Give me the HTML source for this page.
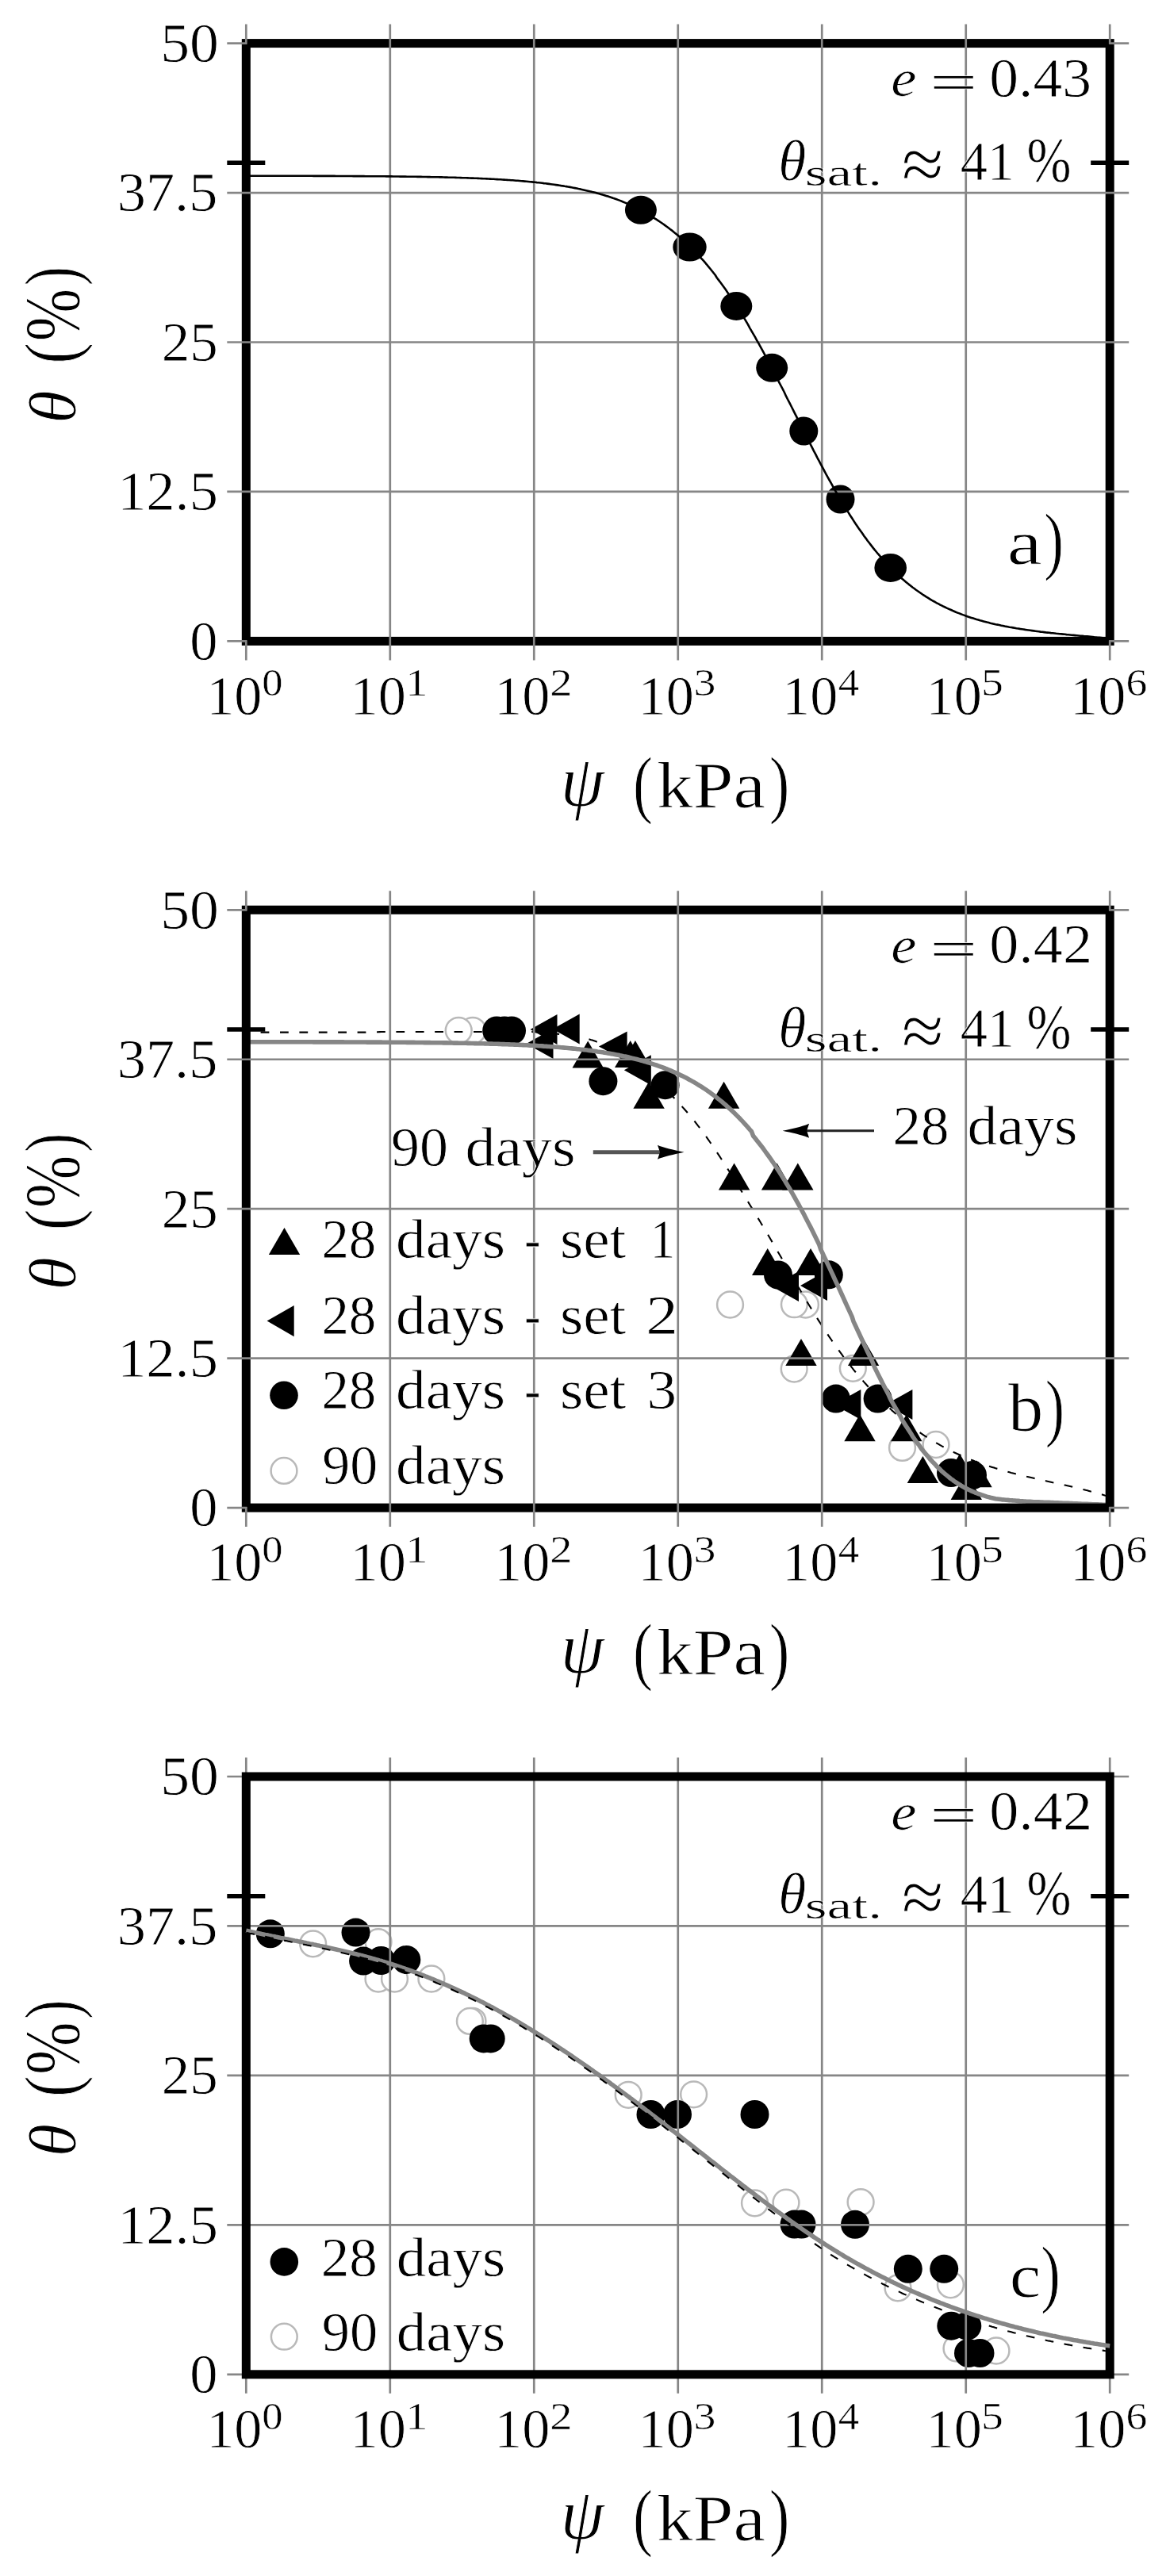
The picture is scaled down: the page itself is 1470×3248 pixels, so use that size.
<!DOCTYPE html>
<html lang="en"><head><meta charset="utf-8"><title>Soil water retention curves</title>
<style>html,body{margin:0;padding:0;background:#fff}svg{display:block}</style></head>
<body>
<svg width="1470" height="3248" viewBox="0 0 1470 3248" font-family='"Liberation Serif", "DejaVu Serif", serif'>
<rect width="1470" height="3248" fill="#fff"/>
<g fill="#000">
<ellipse cx="807.9" cy="264.8" rx="20" ry="18"/>
<ellipse cx="869.5" cy="311.5" rx="21.2" ry="18"/>
<ellipse cx="928.3" cy="385.9" rx="20" ry="18"/>
<ellipse cx="973.2" cy="463.8" rx="20" ry="18"/>
<circle cx="1013.3" cy="543.5" r="18"/>
<circle cx="1059.5" cy="629.5" r="18"/>
<ellipse cx="1122.7" cy="715.9" rx="20.3" ry="18"/>
</g>
<rect x="310.30" y="54.60" width="1088.90" height="753.80" fill="none" stroke="#000" stroke-width="11.0"/>
<path d="M286.30 205.36H334.30M1375.20 205.36H1423.20" stroke="#000" stroke-width="5.5"/>
<path d="M310.30 30.60V55.60M310.30 807.40V832.40M491.78 30.60V832.40M673.27 30.60V832.40M854.75 30.60V832.40M1036.23 30.60V832.40M1217.72 30.60V832.40M1399.20 30.60V55.60M1399.20 807.40V832.40M286.30 808.40H311.30M1398.20 808.40H1423.20M286.30 619.95H1423.20M286.30 431.50H1423.20M286.30 243.05H1423.20M286.30 54.60H311.30M1398.20 54.60H1423.20" stroke="#868686" stroke-width="2.7" fill="none"/>
<path d="M310.3 221.7L312.5 221.7L314.7 221.7L316.8 221.7L319.0 221.7L321.2 221.7L323.4 221.7L325.6 221.7L327.8 221.7L329.9 221.7L332.1 221.7L334.3 221.7L336.5 221.7L338.7 221.7L340.9 221.7L343.0 221.7L345.2 221.7L347.4 221.7L349.6 221.8L351.8 221.8L353.9 221.8L356.1 221.8L358.3 221.8L360.5 221.8L362.7 221.8L364.9 221.8L367.0 221.8L369.2 221.8L371.4 221.8L373.6 221.8L375.8 221.8L377.9 221.8L380.1 221.8L382.3 221.8L384.5 221.8L386.7 221.8L388.9 221.8L391.0 221.8L393.2 221.8L395.4 221.9L397.6 221.9L399.8 221.9L402.0 221.9L404.1 221.9L406.3 221.9L408.5 221.9L410.7 221.9L412.9 221.9L415.0 221.9L417.2 221.9L419.4 221.9L421.6 221.9L423.8 222.0L426.0 222.0L428.1 222.0L430.3 222.0L432.5 222.0L434.7 222.0L436.9 222.0L439.0 222.0L441.2 222.0L443.4 222.0L445.6 222.1L447.8 222.1L450.0 222.1L452.1 222.1L454.3 222.1L456.5 222.1L458.7 222.1L460.9 222.2L463.1 222.2L465.2 222.2L467.4 222.2L469.6 222.2L471.8 222.2L474.0 222.3L476.1 222.3L478.3 222.3L480.5 222.3L482.7 222.3L484.9 222.3L487.1 222.4L489.2 222.4L491.4 222.4L493.6 222.4L495.8 222.5L498.0 222.5L500.1 222.5L502.3 222.5L504.5 222.6L506.7 222.6L508.9 222.6L511.1 222.6L513.2 222.7L515.4 222.7L517.6 222.7L519.8 222.8L522.0 222.8L524.2 222.8L526.3 222.9L528.5 222.9L530.7 222.9L532.9 223.0L535.1 223.0L537.2 223.0L539.4 223.1L541.6 223.1L543.8 223.2L546.0 223.2L548.2 223.3L550.3 223.3L552.5 223.3L554.7 223.4L556.9 223.4L559.1 223.5L561.2 223.6L563.4 223.6L565.6 223.7L567.8 223.7L570.0 223.8L572.2 223.8L574.3 223.9L576.5 224.0L578.7 224.0L580.9 224.1L583.1 224.2L585.3 224.2L587.4 224.3L589.6 224.4L591.8 224.5L594.0 224.6L596.2 224.6L598.3 224.7L600.5 224.8L602.7 224.9L604.9 225.0L607.1 225.1L609.3 225.2L611.4 225.3L613.6 225.4L615.8 225.5L618.0 225.6L620.2 225.7L622.3 225.8L624.5 226.0L626.7 226.1L628.9 226.2L631.1 226.3L633.3 226.5L635.4 226.6L637.6 226.7L639.8 226.9L642.0 227.0L644.2 227.2L646.4 227.3L648.5 227.5L650.7 227.7L652.9 227.8L655.1 228.0L657.3 228.2L659.4 228.4L661.6 228.6L663.8 228.8L666.0 229.0L668.2 229.2L670.4 229.4L672.5 229.6L674.7 229.8L676.9 230.1L679.1 230.3L681.3 230.5L683.5 230.8L685.6 231.1L687.8 231.3L690.0 231.6L692.2 231.9L694.4 232.2L696.5 232.5L698.7 232.8L700.9 233.1L703.1 233.4L705.3 233.7L707.5 234.1L709.6 234.4L711.8 234.8L714.0 235.1L716.2 235.5L718.4 235.9L720.5 236.3L722.7 236.7L724.9 237.1L727.1 237.5L729.3 238.0L731.5 238.4L733.6 238.9L735.8 239.4L738.0 239.9L740.2 240.4L742.4 240.9L744.6 241.4L746.7 242.0L748.9 242.5L751.1 243.1L753.3 243.7L755.5 244.3L757.6 244.9L759.8 245.6L762.0 246.2L764.2 246.9L766.4 247.6L768.6 248.3L770.7 249.0L772.9 249.8L775.1 250.5L777.3 251.3L779.5 252.1L781.6 252.9L783.8 253.8L786.0 254.7L788.2 255.6L790.4 256.5L792.6 257.4L794.7 258.4L796.9 259.4L799.1 260.4L801.3 261.4L803.5 262.5L805.7 263.6L807.8 264.7L810.0 265.8L812.2 267.0L814.4 268.2L816.6 269.4L818.7 271.3L820.9 272.6L823.1 273.9L825.3 275.3L827.5 276.7L829.7 278.1L831.8 279.5L834.0 281.0L836.2 282.5L838.4 284.1L840.6 285.7L842.7 287.3L844.9 289.0L847.1 290.6L849.3 292.4L851.5 294.2L853.7 296.0L855.8 297.8L858.0 299.7L860.2 301.7L862.4 303.6L864.6 305.6L866.8 307.7L868.9 309.8L871.1 312.0L873.3 314.1L875.5 316.4L877.7 318.7L879.8 321.0L882.0 323.3L884.2 325.8L886.4 328.2L888.6 330.7L890.8 333.3L892.9 335.9L895.1 338.5L897.3 341.2L899.5 344.0L901.7 346.8L903.8 350.2L906.0 353.1L908.2 356.0L910.4 359.0L912.6 362.0L914.8 365.1L916.9 368.2L919.1 371.4L921.3 374.6L923.5 377.9L925.7 381.2L927.9 384.6L930.0 388.0L932.2 391.4L934.4 394.9L936.6 398.5L938.8 402.1L940.9 405.7L943.1 409.4L945.3 413.6L947.5 417.3L949.7 421.1L951.9 424.9L954.0 428.8L956.2 432.7L958.4 436.6L960.6 440.6L962.8 444.6L964.9 448.6L967.1 452.7L969.3 456.8L971.5 461.3L973.7 465.5L975.9 469.6L978.0 473.8L980.2 478.0L982.4 482.3L984.6 486.5L986.8 490.7L989.0 495.0L991.1 499.7L993.3 504.0L995.5 508.2L997.7 512.5L999.9 516.8L1002.0 521.1L1004.2 525.4L1006.4 530.1L1008.6 534.4L1010.8 538.6L1013.0 542.9L1015.1 547.2L1017.3 551.4L1019.5 556.0L1021.7 560.2L1023.9 564.4L1026.0 568.6L1028.2 572.7L1030.4 577.1L1032.6 581.2L1034.8 585.3L1037.0 589.4L1039.1 593.4L1041.3 597.6L1043.5 601.6L1045.7 605.5L1047.9 609.3L1050.1 613.4L1052.2 617.2L1054.4 621.0L1056.6 624.7L1058.8 628.6L1061.0 632.2L1063.1 635.8L1065.3 639.5L1067.5 643.0L1069.7 646.4L1071.9 650.0L1074.1 653.3L1076.2 656.6L1078.4 660.0L1080.6 663.2L1082.8 666.5L1085.0 669.6L1087.2 672.6L1089.3 675.7L1091.5 678.6L1093.7 681.7L1095.9 684.5L1098.1 687.4L1100.2 690.1L1102.4 692.9L1104.6 695.5L1106.8 698.2L1109.0 700.7L1111.2 703.3L1113.3 705.8L1115.5 708.1L1117.7 710.5L1119.9 712.8L1122.1 715.1L1124.2 717.4L1126.4 719.5L1128.6 721.6L1130.8 723.7L1133.0 725.8L1135.2 727.7L1137.3 729.7L1139.5 731.6L1141.7 733.4L1143.9 735.3L1146.1 737.1L1148.3 738.8L1150.4 740.5L1152.6 742.0L1154.8 743.7L1157.0 745.2L1159.2 746.8L1161.3 748.3L1163.5 749.8L1165.7 751.2L1167.9 752.6L1170.1 753.9L1172.3 755.3L1174.4 756.6L1176.6 757.8L1178.8 759.0L1181.0 760.3L1183.2 761.4L1185.3 762.6L1187.5 763.7L1189.7 764.8L1191.9 765.8L1194.1 766.9L1196.3 767.9L1198.4 768.8L1200.6 769.8L1202.8 770.7L1205.0 771.7L1207.2 772.6L1209.4 773.4L1211.5 774.3L1213.7 775.1L1215.9 775.9L1218.1 776.7L1220.3 777.5L1222.4 778.2L1224.6 778.9L1226.8 779.6L1229.0 780.3L1231.2 781.0L1233.4 781.6L1235.5 782.3L1237.7 782.8L1239.9 783.4L1242.1 784.0L1244.3 784.6L1246.4 785.1L1248.6 785.7L1250.8 786.2L1253.0 786.7L1255.2 787.2L1257.4 787.6L1259.5 788.1L1261.7 788.6L1263.9 789.0L1266.1 789.4L1268.3 789.9L1270.5 790.3L1272.6 790.7L1274.8 791.0L1277.0 791.4L1279.2 791.8L1281.4 792.2L1283.5 792.5L1285.7 792.9L1287.9 793.2L1290.1 793.5L1292.3 793.9L1294.5 794.2L1296.6 794.5L1298.8 794.8L1301.0 795.1L1303.2 795.4L1305.4 795.7L1307.5 796.0L1309.7 796.3L1311.9 796.6L1314.1 796.8L1316.3 797.1L1318.5 797.4L1320.6 797.6L1322.8 797.8L1325.0 798.1L1327.2 798.3L1329.4 798.5L1331.6 798.8L1333.7 799.0L1335.9 799.2L1338.1 799.4L1340.3 799.6L1342.5 799.8L1344.6 800.1L1346.8 800.3L1349.0 800.5L1351.2 800.7L1353.4 800.9L1355.6 801.1L1357.7 801.3L1359.9 801.5L1362.1 801.7L1364.3 801.8L1366.5 802.1L1368.6 802.2L1370.8 802.4L1373.0 802.6L1375.2 802.8L1377.4 803.0L1379.6 803.3L1381.7 803.5L1383.9 803.7L1386.1 803.9L1388.3 804.1L1390.5 804.3L1392.7 804.5L1394.8 804.8L1397.0 805.0L1399.2 805.2" fill="none" stroke="#000" stroke-width="2.6" stroke-linejoin="round"/>
<text fill="#000" stroke="#fff"><tspan x="202.26" y="77.90" font-size="69.00" textLength="73.70" lengthAdjust="spacingAndGlyphs" stroke-width="0.76">50</tspan></text>
<text fill="#000" stroke="#fff"><tspan x="147.77" y="266.35" font-size="69.00" textLength="126.53" lengthAdjust="spacingAndGlyphs" stroke-width="0.76">37.5</tspan></text>
<text fill="#000" stroke="#fff"><tspan x="203.80" y="454.80" font-size="69.00" textLength="71.04" lengthAdjust="spacingAndGlyphs" stroke-width="0.76">25</tspan></text>
<text fill="#000" stroke="#fff"><tspan x="148.16" y="643.25" font-size="69.00" textLength="126.73" lengthAdjust="spacingAndGlyphs" stroke-width="0.76">12.5</tspan></text>
<text fill="#000" stroke="#fff"><tspan x="239.35" y="831.70" font-size="69.00" textLength="35.29" lengthAdjust="spacingAndGlyphs" stroke-width="0.76">0</tspan></text>
<text fill="#000" stroke="#fff"><tspan x="260.15" y="900.60" font-size="69.00" textLength="70.29" lengthAdjust="spacingAndGlyphs" stroke-width="0.76">10</tspan><tspan x="330.33" y="877.20" font-size="49.00" textLength="26.24" lengthAdjust="spacingAndGlyphs" stroke-width="0.54">0</tspan></text>
<text fill="#000" stroke="#fff"><tspan x="441.63" y="900.60" font-size="69.00" textLength="70.29" lengthAdjust="spacingAndGlyphs" stroke-width="0.76">10</tspan><tspan x="511.37" y="877.20" font-size="49.00" textLength="28.09" lengthAdjust="spacingAndGlyphs" stroke-width="0.54">1</tspan></text>
<text fill="#000" stroke="#fff"><tspan x="623.12" y="900.60" font-size="69.00" textLength="70.29" lengthAdjust="spacingAndGlyphs" stroke-width="0.76">10</tspan><tspan x="693.24" y="877.20" font-size="49.00" textLength="28.12" lengthAdjust="spacingAndGlyphs" stroke-width="0.54">2</tspan></text>
<text fill="#000" stroke="#fff"><tspan x="804.60" y="900.60" font-size="69.00" textLength="70.29" lengthAdjust="spacingAndGlyphs" stroke-width="0.76">10</tspan><tspan x="874.60" y="877.20" font-size="49.00" textLength="27.88" lengthAdjust="spacingAndGlyphs" stroke-width="0.54">3</tspan></text>
<text fill="#000" stroke="#fff"><tspan x="986.08" y="900.60" font-size="69.00" textLength="70.29" lengthAdjust="spacingAndGlyphs" stroke-width="0.76">10</tspan><tspan x="1056.68" y="877.20" font-size="49.00" textLength="26.34" lengthAdjust="spacingAndGlyphs" stroke-width="0.54">4</tspan></text>
<text fill="#000" stroke="#fff"><tspan x="1167.57" y="900.60" font-size="69.00" textLength="70.29" lengthAdjust="spacingAndGlyphs" stroke-width="0.76">10</tspan><tspan x="1237.00" y="877.20" font-size="49.00" textLength="27.95" lengthAdjust="spacingAndGlyphs" stroke-width="0.54">5</tspan></text>
<text fill="#000" stroke="#fff"><tspan x="1349.05" y="900.60" font-size="69.00" textLength="70.29" lengthAdjust="spacingAndGlyphs" stroke-width="0.76">10</tspan><tspan x="1419.41" y="877.20" font-size="49.00" textLength="26.90" lengthAdjust="spacingAndGlyphs" stroke-width="0.54">6</tspan></text>
<text fill="#000" stroke="#fff"><tspan x="706.68" y="1015.80" font-size="91.00" font-style="italic" textLength="55.09" lengthAdjust="spacingAndGlyphs" stroke-width="1.00">ψ</tspan> <tspan x="797.91" y="1020.00" font-size="95.00" textLength="25.07" lengthAdjust="spacingAndGlyphs" stroke-width="1.04">(</tspan><tspan x="827.97" y="1017.80" font-size="83.00" textLength="137.00" lengthAdjust="spacingAndGlyphs" stroke-width="0.91">kPa</tspan><tspan x="969.70" y="1020.00" font-size="95.00" textLength="25.61" lengthAdjust="spacingAndGlyphs" stroke-width="1.04">)</tspan></text>
<text transform="translate(96,530.00) rotate(-90)" fill="#000" stroke="#fff"><tspan x="-3.82" y="-0.80" font-size="84.50" font-style="italic" textLength="41.41" lengthAdjust="spacingAndGlyphs" stroke-width="0.93">θ</tspan> <tspan x="71.36" y="1.40" font-size="94.50" textLength="26.90" lengthAdjust="spacingAndGlyphs" stroke-width="1.04">(</tspan><tspan x="99.71" y="3.00" font-size="99.76" textLength="66.31" lengthAdjust="spacingAndGlyphs" stroke-width="0.95">%</tspan><tspan x="169.63" y="1.40" font-size="94.50" textLength="24.31" lengthAdjust="spacingAndGlyphs" stroke-width="1.04">)</tspan></text>
<text fill="#000" stroke="#fff"><tspan x="1123.32" y="121.40" font-size="66.00" font-style="italic" textLength="32.23" lengthAdjust="spacingAndGlyphs" stroke-width="0.73">e</tspan> <tspan x="1171.80" y="126.00" font-size="66.00" textLength="60.89" lengthAdjust="spacingAndGlyphs" stroke-width="0.73">=</tspan> <tspan x="1247.24" y="121.60" font-size="69.00" textLength="128.70" lengthAdjust="spacingAndGlyphs" stroke-width="0.76">0.43</tspan></text>
<text fill="#000" stroke="#fff"><tspan x="981.13" y="227.00" font-size="72.00" font-style="italic" textLength="35.06" lengthAdjust="spacingAndGlyphs" stroke-width="0.79">θ</tspan><tspan x="1014.74" y="233.50" font-size="48.00" textLength="97.38" lengthAdjust="spacingAndGlyphs" stroke-width="0.53">sat.</tspan> <tspan x="1136.84" y="238.80" font-size="95.00" textLength="53.07" lengthAdjust="spacingAndGlyphs" stroke-width="1.04">≈</tspan> <tspan x="1210.63" y="227.00" font-size="69.00" textLength="68.48" lengthAdjust="spacingAndGlyphs" stroke-width="0.76">41</tspan> <tspan x="1294.45" y="228.80" font-size="81.42" textLength="55.97" lengthAdjust="spacingAndGlyphs" stroke-width="0.76">%</tspan></text>
<text fill="#000" stroke="#fff"><tspan x="1269.84" y="711.00" font-size="79.00" textLength="43.94" lengthAdjust="spacingAndGlyphs" stroke-width="0.87">a</tspan><tspan x="1315.95" y="713.00" font-size="94.50" textLength="25.09" lengthAdjust="spacingAndGlyphs" stroke-width="1.04">)</tspan></text>
<circle cx="596.0" cy="1299.3" r="16.4" fill="#fff" stroke="#b9b9b9" stroke-width="2.5"/>
<circle cx="578.2" cy="1299.3" r="16.4" fill="#fff" stroke="#b9b9b9" stroke-width="2.5"/>
<circle cx="920.5" cy="1645.0" r="16.4" fill="#fff" stroke="#b9b9b9" stroke-width="2.5"/>
<circle cx="1015.5" cy="1645.0" r="16.4" fill="#fff" stroke="#b9b9b9" stroke-width="2.5"/>
<circle cx="1001.4" cy="1644.7" r="16.4" fill="#fff" stroke="#b9b9b9" stroke-width="2.5"/>
<circle cx="1001.2" cy="1726.0" r="16.4" fill="#fff" stroke="#b9b9b9" stroke-width="2.5"/>
<circle cx="1075.3" cy="1725.3" r="16.4" fill="#fff" stroke="#b9b9b9" stroke-width="2.5"/>
<circle cx="1137.5" cy="1825.4" r="16.4" fill="#fff" stroke="#b9b9b9" stroke-width="2.5"/>
<circle cx="1180.0" cy="1821.5" r="16.4" fill="#fff" stroke="#b9b9b9" stroke-width="2.5"/>
<g fill="#000">
<circle cx="626.2" cy="1299.5" r="18"/>
<circle cx="636.0" cy="1299.5" r="18"/>
<circle cx="645.0" cy="1299.5" r="18"/>
<path d="M696.7 1297.5L730.7 1278.5V1316.5Z"/>
<path d="M668.5 1298.0L702.5 1279.0V1317.0Z"/>
<path d="M663.5 1316.0L697.5 1297.0V1335.0Z"/>
<path d="M741.2 1312.6L760.9 1346.6H721.5Z"/>
<path d="M754.9 1319.5L790.6 1300.5V1338.5Z"/>
<circle cx="760.4" cy="1363.2" r="18"/>
<path d="M794.7 1312.0L814.4 1346.0H775.0Z"/>
<path d="M800.9 1312.0L820.6 1346.0H781.2Z"/>
<path d="M786.8 1349.2L820.8 1330.2V1368.2Z"/>
<path d="M818.1 1363.7L837.8 1397.8H798.4Z"/>
<circle cx="838.6" cy="1368.2" r="18"/>
<path d="M912.6 1363.7L932.3 1397.8H892.9Z"/>
<path d="M925.6 1466.6L945.3 1500.6H905.9Z"/>
<path d="M979.6 1466.6L999.3 1500.6H959.9Z"/>
<path d="M1005.8 1466.6L1025.5 1500.6H986.1Z"/>
<path d="M967.7 1574.0L987.4 1608.0H948.0Z"/>
<circle cx="981.0" cy="1607.5" r="18"/>
<path d="M973.0 1622.0L1007.0 1603.0V1641.0Z"/>
<path d="M1022.0 1574.0L1041.7 1608.0H1002.3Z"/>
<path d="M1009.0 1621.0L1043.0 1602.0V1640.0Z"/>
<circle cx="1044.8" cy="1607.3" r="18"/>
<path d="M1010.0 1688.0L1029.7 1722.0H990.3Z"/>
<path d="M1088.6 1688.0L1108.3 1722.0H1068.9Z"/>
<circle cx="1053.9" cy="1763.6" r="18"/>
<path d="M1051.3 1771.0L1085.3 1752.0V1790.0Z"/>
<path d="M1084.0 1783.3L1103.7 1817.3H1064.3Z"/>
<circle cx="1106.6" cy="1763.6" r="18"/>
<path d="M1116.4 1771.0L1150.4 1752.0V1790.0Z"/>
<path d="M1142.8 1783.3L1162.5 1817.3H1123.1Z"/>
<path d="M1163.4 1835.9L1183.1 1869.9H1143.7Z"/>
<circle cx="1199.0" cy="1857.0" r="18"/>
<circle cx="1226.0" cy="1860.0" r="18"/>
<path d="M1210.0 1832.9L1229.7 1866.9H1190.3Z"/>
<path d="M1231.0 1841.3L1250.7 1875.3H1211.3Z"/>
<path d="M1218.3 1857.1L1238.0 1891.1H1198.6Z"/>
</g>
<path d="M310.3 1301.0L312.5 1301.0L314.7 1301.1L316.8 1301.2L319.0 1301.3L321.2 1301.4L323.4 1301.5L325.6 1301.6L327.8 1301.6L329.9 1301.6L332.1 1301.6L334.3 1301.6L336.5 1301.6L338.7 1301.6L340.9 1301.6L343.0 1301.6L345.2 1301.6L347.4 1301.6L349.6 1301.6L351.8 1301.6L353.9 1301.6L356.1 1301.6L358.3 1301.6L360.5 1301.6L362.7 1301.6L364.9 1301.6L367.0 1301.6L369.2 1301.6L371.4 1301.6L373.6 1301.6L375.8 1301.6L377.9 1301.6L380.1 1301.6L382.3 1301.6L384.5 1301.6L386.7 1301.6L388.9 1301.6L391.0 1301.6L393.2 1301.6L395.4 1301.6L397.6 1301.6L399.8 1301.6L402.0 1301.6L404.1 1301.6L406.3 1301.6L408.5 1301.6L410.7 1301.6L412.9 1301.6L415.0 1301.6L417.2 1301.6L419.4 1301.6L421.6 1301.6L423.8 1301.6L426.0 1301.6L428.1 1301.6L430.3 1301.6L432.5 1301.6L434.7 1301.6L436.9 1301.6L439.0 1301.6L441.2 1301.6L443.4 1301.6L445.6 1301.6L447.8 1301.6L450.0 1301.6L452.1 1301.6L454.3 1301.6L456.5 1301.6L458.7 1301.6L460.9 1301.6L463.1 1301.5L465.2 1301.5L467.4 1301.4L469.6 1301.3L471.8 1301.3L474.0 1301.2L476.1 1301.2L478.3 1301.1L480.5 1301.0L482.7 1301.0L484.9 1301.0L487.1 1301.0L489.2 1301.0L491.4 1301.0L493.6 1301.0L495.8 1301.0L498.0 1301.0L500.1 1301.0L502.3 1301.0L504.5 1301.0L506.7 1301.0L508.9 1301.0L511.1 1301.0L513.2 1301.0L515.4 1301.0L517.6 1301.0L519.8 1301.0L522.0 1301.0L524.2 1301.0L526.3 1301.0L528.5 1301.0L530.7 1301.0L532.9 1301.0L535.1 1301.0L537.2 1301.0L539.4 1301.0L541.6 1301.0L543.8 1301.0L546.0 1301.0L548.2 1301.0L550.3 1301.0L552.5 1301.0L554.7 1301.0L556.9 1301.0L559.1 1301.0L561.2 1301.0L563.4 1301.0L565.6 1301.0L567.8 1301.0L570.0 1301.0L572.2 1301.0L574.3 1301.0L576.5 1301.0L578.7 1301.0L580.9 1301.0L583.1 1301.0L585.3 1301.0L587.4 1301.0L589.6 1301.0L591.8 1301.0L594.0 1301.0L596.2 1301.0L598.3 1301.0L600.5 1301.0L602.7 1301.0L604.9 1301.0L607.1 1301.0L609.3 1301.0L611.4 1301.0L613.6 1301.0L615.8 1301.0L618.0 1301.0L620.2 1301.0L622.3 1301.0L624.5 1301.0L626.7 1301.0L628.9 1301.0L631.1 1301.0L633.3 1301.0L635.4 1301.0L637.6 1301.0L639.8 1301.0L642.0 1301.0L644.2 1301.0L646.4 1301.0L648.5 1301.0L650.7 1301.0L652.9 1301.0L655.1 1301.0L657.3 1301.0L659.4 1301.0L661.6 1301.0L663.8 1301.0L666.0 1301.0L668.2 1301.0L670.4 1301.0L672.5 1301.2L674.7 1301.3L676.9 1301.5L679.1 1301.6L681.3 1301.6L683.5 1301.6L685.6 1301.6L687.8 1301.6L690.0 1301.6L692.2 1302.6L694.4 1302.8L696.5 1303.0L698.7 1303.2L700.9 1303.4L703.1 1303.7L705.3 1303.9L707.5 1304.1L709.6 1304.3L711.8 1304.6L714.0 1304.9L716.2 1305.2L718.4 1305.5L720.5 1305.8L722.7 1306.1L724.9 1306.5L727.1 1306.9L729.3 1307.3L731.5 1307.7L733.6 1308.2L735.8 1308.7L738.0 1309.2L740.2 1309.7L742.4 1310.3L744.6 1311.0L746.7 1311.6L748.9 1312.3L751.1 1313.1L753.3 1313.9L755.5 1314.7L757.6 1315.5L759.8 1316.4L762.0 1317.4L764.2 1318.4L766.4 1319.4L768.6 1320.4L770.7 1321.5L772.9 1322.7L775.1 1323.8L777.3 1325.0L779.5 1326.3L781.6 1327.5L783.8 1328.8L786.0 1330.2L788.2 1331.6L790.4 1333.0L792.6 1334.4L794.7 1335.9L796.9 1337.5L799.1 1339.0L801.3 1340.6L803.5 1342.2L805.7 1343.9L807.8 1345.6L810.0 1347.3L812.2 1349.1L814.4 1350.9L816.6 1352.7L818.7 1354.5L820.9 1356.4L823.1 1358.3L825.3 1360.3L827.5 1362.3L829.7 1364.3L831.8 1366.3L834.0 1368.4L836.2 1370.5L838.4 1372.6L840.6 1374.8L842.7 1377.0L844.9 1379.2L847.1 1381.5L849.3 1383.7L851.5 1386.1L853.7 1388.4L855.8 1390.8L858.0 1393.1L860.2 1395.6L862.4 1398.0L864.6 1400.5L866.8 1403.0L868.9 1405.6L871.1 1408.2L873.3 1410.8L875.5 1413.5L877.7 1416.3L879.8 1419.1L882.0 1421.9L884.2 1424.8L886.4 1427.7L888.6 1430.7L890.8 1433.8L892.9 1436.8L895.1 1440.0L897.3 1443.1L899.5 1446.3L901.7 1449.6L903.8 1452.8L906.0 1456.1L908.2 1459.5L910.4 1462.8L912.6 1466.2L914.8 1469.6L916.9 1473.1L919.1 1476.5L921.3 1480.0L923.5 1483.5L925.7 1487.0L927.9 1490.5L930.0 1494.1L932.2 1497.6L934.4 1501.2L936.6 1504.7L938.8 1508.3L940.9 1511.9L943.1 1515.4L945.3 1519.0L947.5 1522.6L949.7 1526.2L951.9 1529.7L954.0 1533.3L956.2 1536.9L958.4 1540.5L960.6 1544.2L962.8 1547.8L964.9 1551.5L967.1 1555.1L969.3 1558.8L971.5 1562.5L973.7 1566.3L975.9 1570.0L978.0 1573.7L980.2 1577.5L982.4 1581.3L984.6 1585.0L986.8 1588.8L989.0 1592.6L991.1 1596.4L993.3 1600.1L995.5 1603.9L997.7 1607.7L999.9 1611.4L1002.0 1615.2L1004.2 1618.9L1006.4 1622.7L1008.6 1626.4L1010.8 1630.1L1013.0 1633.8L1015.1 1637.4L1017.3 1641.1L1019.5 1644.7L1021.7 1648.3L1023.9 1651.9L1026.0 1655.4L1028.2 1658.9L1030.4 1662.4L1032.6 1665.9L1034.8 1669.3L1037.0 1672.7L1039.1 1676.0L1041.3 1679.3L1043.5 1682.6L1045.7 1685.8L1047.9 1689.0L1050.1 1692.2L1052.2 1695.3L1054.4 1698.4L1056.6 1701.4L1058.8 1704.4L1061.0 1707.4L1063.1 1710.3L1065.3 1713.2L1067.5 1716.0L1069.7 1718.8L1071.9 1721.6L1074.1 1724.4L1076.2 1727.1L1078.4 1729.7L1080.6 1732.4L1082.8 1735.0L1085.0 1737.5L1087.2 1740.1L1089.3 1742.6L1091.5 1745.0L1093.7 1747.5L1095.9 1749.9L1098.1 1752.2L1100.2 1754.6L1102.4 1756.9L1104.6 1759.1L1106.8 1761.4L1109.0 1763.6L1111.2 1765.7L1113.3 1767.9L1115.5 1770.0L1117.7 1772.1L1119.9 1774.1L1122.1 1776.1L1124.2 1778.1L1126.4 1780.0L1128.6 1782.0L1130.8 1783.9L1133.0 1785.7L1135.2 1787.6L1137.3 1789.4L1139.5 1791.1L1141.7 1792.9L1143.9 1794.6L1146.1 1796.3L1148.3 1797.9L1150.4 1799.6L1152.6 1801.2L1154.8 1802.8L1157.0 1804.3L1159.2 1805.8L1161.3 1807.3L1163.5 1808.8L1165.7 1810.3L1167.9 1811.7L1170.1 1813.1L1172.3 1814.5L1174.4 1815.8L1176.6 1817.1L1178.8 1818.4L1181.0 1819.7L1183.2 1820.9L1185.3 1822.2L1187.5 1823.4L1189.7 1824.5L1191.9 1825.7L1194.1 1826.8L1196.3 1828.0L1198.4 1829.1L1200.6 1830.1L1202.8 1831.2L1205.0 1832.2L1207.2 1833.2L1209.4 1834.2L1211.5 1835.2L1213.7 1836.2L1215.9 1837.1L1218.1 1838.0L1220.3 1838.9L1222.4 1839.8L1224.6 1840.7L1226.8 1841.5L1229.0 1842.4L1231.2 1843.2L1233.4 1844.0L1235.5 1844.8L1237.7 1845.6L1239.9 1846.3L1242.1 1847.1L1244.3 1847.8L1246.4 1848.5L1248.6 1849.2L1250.8 1849.9L1253.0 1850.6L1255.2 1851.3L1257.4 1851.9L1259.5 1852.6L1261.7 1853.2L1263.9 1853.9L1266.1 1854.5L1268.3 1855.1L1270.5 1855.7L1272.6 1856.3L1274.8 1856.9L1277.0 1857.4L1279.2 1858.0L1281.4 1858.6L1283.5 1859.1L1285.7 1859.6L1287.9 1860.2L1290.1 1860.7L1292.3 1861.2L1294.5 1861.8L1296.6 1862.3L1298.8 1862.8L1301.0 1863.3L1303.2 1863.8L1305.4 1864.3L1307.5 1864.8L1309.7 1865.3L1311.9 1865.8L1314.1 1866.3L1316.3 1866.7L1318.5 1867.2L1320.6 1867.7L1322.8 1868.2L1325.0 1868.7L1327.2 1869.2L1329.4 1869.6L1331.6 1870.1L1333.7 1870.6L1335.9 1871.1L1338.1 1871.6L1340.3 1872.1L1342.5 1872.6L1344.6 1873.1L1346.8 1873.6L1349.0 1874.1L1351.2 1874.6L1353.4 1875.1L1355.6 1875.6L1357.7 1876.1L1359.9 1876.6L1362.1 1877.2L1364.3 1877.7L1366.5 1878.2L1368.6 1878.8L1370.8 1879.3L1373.0 1879.9L1375.2 1880.5L1377.4 1881.0L1379.6 1881.6L1381.7 1882.2L1383.9 1882.8L1386.1 1883.5L1388.3 1884.1L1390.5 1884.7L1392.7 1885.4L1394.8 1886.0L1397.0 1886.7L1399.2 1887.4" fill="none" stroke="#000" stroke-width="2.1" stroke-dasharray="10.8 13.6" stroke-linejoin="round" stroke-dashoffset="6.1"/>
<path d="M310.3 1313.8L312.5 1313.8L314.7 1313.8L316.8 1313.8L319.0 1313.8L321.2 1313.8L323.4 1313.8L325.6 1313.8L327.8 1313.8L329.9 1313.8L332.1 1313.8L334.3 1313.8L336.5 1313.8L338.7 1313.8L340.9 1313.8L343.0 1313.8L345.2 1313.8L347.4 1313.8L349.6 1313.8L351.8 1313.8L353.9 1313.8L356.1 1313.8L358.3 1313.8L360.5 1313.8L362.7 1313.8L364.9 1313.8L367.0 1313.8L369.2 1313.8L371.4 1313.8L373.6 1313.8L375.8 1313.8L377.9 1313.8L380.1 1313.8L382.3 1313.8L384.5 1313.8L386.7 1313.8L388.9 1313.8L391.0 1313.8L393.2 1313.8L395.4 1313.9L397.6 1313.9L399.8 1313.9L402.0 1313.9L404.1 1313.9L406.3 1313.9L408.5 1313.9L410.7 1313.9L412.9 1313.9L415.0 1313.9L417.2 1313.9L419.4 1313.9L421.6 1313.9L423.8 1313.9L426.0 1313.9L428.1 1313.9L430.3 1313.9L432.5 1313.9L434.7 1314.0L436.9 1314.0L439.0 1314.0L441.2 1314.0L443.4 1314.0L445.6 1314.0L447.8 1314.0L450.0 1314.0L452.1 1314.0L454.3 1314.0L456.5 1314.0L458.7 1314.0L460.9 1314.0L463.1 1314.1L465.2 1314.1L467.4 1314.1L469.6 1314.1L471.8 1314.1L474.0 1314.1L476.1 1314.1L478.3 1314.1L480.5 1314.1L482.7 1314.2L484.9 1314.2L487.1 1314.2L489.2 1314.2L491.4 1314.2L493.6 1314.2L495.8 1314.2L498.0 1314.2L500.1 1314.3L502.3 1314.3L504.5 1314.3L506.7 1314.3L508.9 1314.3L511.1 1314.3L513.2 1314.4L515.4 1314.4L517.6 1314.4L519.8 1314.4L522.0 1314.4L524.2 1314.5L526.3 1314.5L528.5 1314.5L530.7 1314.5L532.9 1314.5L535.1 1314.6L537.2 1314.6L539.4 1314.6L541.6 1314.6L543.8 1314.7L546.0 1314.7L548.2 1314.7L550.3 1314.7L552.5 1314.8L554.7 1314.8L556.9 1314.8L559.1 1314.9L561.2 1314.9L563.4 1314.9L565.6 1315.0L567.8 1315.0L570.0 1315.0L572.2 1315.1L574.3 1315.1L576.5 1315.1L578.7 1315.2L580.9 1315.2L583.1 1315.3L585.3 1315.3L587.4 1315.3L589.6 1315.4L591.8 1315.4L594.0 1315.5L596.2 1315.5L598.3 1315.6L600.5 1315.6L602.7 1315.7L604.9 1315.7L607.1 1315.8L609.3 1315.8L611.4 1315.9L613.6 1316.0L615.8 1316.0L618.0 1316.1L620.2 1316.1L622.3 1316.2L624.5 1316.3L626.7 1316.3L628.9 1316.4L631.1 1316.5L633.3 1316.6L635.4 1316.6L637.6 1316.7L639.8 1316.8L642.0 1316.9L644.2 1317.0L646.4 1317.0L648.5 1317.1L650.7 1317.2L652.9 1317.3L655.1 1317.4L657.3 1317.5L659.4 1317.6L661.6 1317.7L663.8 1317.8L666.0 1317.9L668.2 1318.1L670.4 1318.2L672.5 1318.3L674.7 1318.4L676.9 1318.5L679.1 1318.7L681.3 1318.8L683.5 1318.9L685.6 1319.1L687.8 1319.2L690.0 1319.4L692.2 1319.5L694.4 1319.7L696.5 1319.8L698.7 1320.0L700.9 1320.2L703.1 1320.3L705.3 1320.5L707.5 1320.7L709.6 1320.9L711.8 1321.1L714.0 1321.3L716.2 1321.5L718.4 1321.7L720.5 1321.9L722.7 1322.1L724.9 1322.3L727.1 1322.6L729.3 1322.8L731.5 1323.1L733.6 1323.3L735.8 1323.6L738.0 1323.8L740.2 1324.1L742.4 1324.4L744.6 1324.6L746.7 1324.9L748.9 1325.2L751.1 1325.5L753.3 1325.9L755.5 1326.2L757.6 1326.5L759.8 1326.8L762.0 1327.2L764.2 1327.6L766.4 1327.9L768.6 1328.3L770.7 1328.7L772.9 1329.1L775.1 1329.5L777.3 1329.9L779.5 1330.3L781.6 1330.8L783.8 1331.2L786.0 1331.7L788.2 1332.1L790.4 1332.6L792.6 1333.1L794.7 1333.6L796.9 1334.2L799.1 1334.7L801.3 1335.2L803.5 1335.8L805.7 1336.4L807.8 1337.0L810.0 1337.6L812.2 1338.2L814.4 1338.8L816.6 1339.5L818.7 1340.2L820.9 1340.9L823.1 1341.6L825.3 1342.3L827.5 1343.0L829.7 1343.8L831.8 1344.6L834.0 1345.4L836.2 1346.2L838.4 1347.0L840.6 1347.9L842.7 1348.8L844.9 1349.7L847.1 1350.6L849.3 1351.5L851.5 1352.5L853.7 1353.5L855.8 1354.5L858.0 1355.6L860.2 1356.6L862.4 1357.7L864.6 1358.8L866.8 1360.0L868.9 1361.2L871.1 1362.4L873.3 1363.6L875.5 1364.8L877.7 1366.1L879.8 1367.5L882.0 1368.8L884.2 1370.2L886.4 1371.6L888.6 1373.0L890.8 1374.5L892.9 1376.0L895.1 1377.6L897.3 1379.2L899.5 1380.8L901.7 1382.4L903.8 1384.1L906.0 1385.9L908.2 1387.6L910.4 1389.4L912.6 1391.3L914.8 1393.2L916.9 1395.1L919.1 1397.1L921.3 1399.1L923.5 1401.1L925.7 1403.2L927.9 1405.4L930.0 1407.6L932.2 1409.8L934.4 1412.1L936.6 1414.4L938.8 1416.8L940.9 1419.2L943.1 1421.6L945.3 1424.2L947.5 1426.7L949.7 1432.4L951.9 1435.0L954.0 1437.7L956.2 1440.5L958.4 1443.3L960.6 1446.1L962.8 1449.0L964.9 1452.0L967.1 1455.0L969.3 1458.0L971.5 1461.1L973.7 1464.3L975.9 1467.5L978.0 1470.8L980.2 1474.1L982.4 1477.5L984.6 1480.9L986.8 1484.4L989.0 1487.9L991.1 1491.5L993.3 1495.1L995.5 1498.8L997.7 1502.5L999.9 1506.3L1002.0 1510.2L1004.2 1514.1L1006.4 1518.0L1008.6 1522.0L1010.8 1526.0L1013.0 1530.1L1015.1 1534.3L1017.3 1538.5L1019.5 1542.7L1021.7 1546.9L1023.9 1551.3L1026.0 1555.6L1028.2 1560.0L1030.4 1564.4L1032.6 1568.9L1034.8 1575.6L1037.0 1580.1L1039.1 1584.6L1041.3 1589.2L1043.5 1593.8L1045.7 1598.4L1047.9 1603.1L1050.1 1607.8L1052.2 1612.5L1054.4 1617.2L1056.6 1621.9L1058.8 1626.7L1061.0 1631.5L1063.1 1636.2L1065.3 1641.0L1067.5 1645.8L1069.7 1650.6L1071.9 1655.4L1074.1 1660.2L1076.2 1666.6L1078.4 1671.3L1080.6 1676.1L1082.8 1680.8L1085.0 1685.5L1087.2 1690.2L1089.3 1694.9L1091.5 1699.5L1093.7 1704.2L1095.9 1708.8L1098.1 1713.4L1100.2 1717.9L1102.4 1723.6L1104.6 1728.0L1106.8 1732.4L1109.0 1736.8L1111.2 1741.1L1113.3 1745.4L1115.5 1749.6L1117.7 1753.8L1119.9 1757.9L1122.1 1762.9L1124.2 1766.9L1126.4 1770.8L1128.6 1774.6L1130.8 1778.4L1133.0 1782.2L1135.2 1785.9L1137.3 1790.2L1139.5 1793.7L1141.7 1797.2L1143.9 1800.6L1146.1 1803.9L1148.3 1807.2L1150.4 1810.9L1152.6 1814.0L1154.8 1817.1L1157.0 1820.0L1159.2 1822.9L1161.3 1826.2L1163.5 1828.9L1165.7 1831.6L1167.9 1834.1L1170.1 1836.6L1172.3 1839.5L1174.4 1841.8L1176.6 1844.1L1178.8 1846.3L1181.0 1848.9L1183.2 1850.9L1185.3 1852.9L1187.5 1855.2L1189.7 1857.0L1191.9 1858.9L1194.1 1860.6L1196.3 1862.5L1198.4 1864.2L1200.6 1865.7L1202.8 1867.5L1205.0 1868.9L1207.2 1870.3L1209.4 1871.8L1211.5 1873.0L1213.7 1874.4L1215.9 1875.6L1218.1 1876.6L1220.3 1877.9L1222.4 1878.8L1224.6 1879.9L1226.8 1880.8L1229.0 1881.8L1231.2 1882.6L1233.4 1883.5L1235.5 1884.2L1237.7 1885.0L1239.9 1885.7L1242.1 1886.4L1244.3 1887.1L1246.4 1887.6L1248.6 1888.2L1250.8 1888.7L1253.0 1889.2L1255.2 1889.7L1257.4 1890.0L1259.5 1890.3L1261.7 1890.6L1263.9 1890.9L1266.1 1891.0L1268.3 1891.2L1270.5 1891.4L1272.6 1891.6L1274.8 1891.7L1277.0 1891.9L1279.2 1892.0L1281.4 1892.2L1283.5 1892.4L1285.7 1892.6L1287.9 1892.7L1290.1 1892.9L1292.3 1893.0L1294.5 1893.2L1296.6 1893.3L1298.8 1893.4L1301.0 1893.5L1303.2 1893.7L1305.4 1893.7L1307.5 1893.8L1309.7 1893.9L1311.9 1894.0L1314.1 1894.1L1316.3 1894.2L1318.5 1894.3L1320.6 1894.4L1322.8 1894.4L1325.0 1894.5L1327.2 1894.6L1329.4 1894.7L1331.6 1894.8L1333.7 1894.9L1335.9 1895.0L1338.1 1895.1L1340.3 1895.2L1342.5 1895.3L1344.6 1895.4L1346.8 1895.4L1349.0 1895.5L1351.2 1895.6L1353.4 1895.7L1355.6 1895.8L1357.7 1895.9L1359.9 1896.0L1362.1 1896.1L1364.3 1896.2L1366.5 1896.3L1368.6 1896.4L1370.8 1896.4L1373.0 1896.5L1375.2 1896.6L1377.4 1896.7L1379.6 1896.8L1381.7 1896.9L1383.9 1896.9L1386.1 1897.0L1388.3 1897.1L1390.5 1897.2L1392.7 1897.3L1394.8 1897.4L1397.0 1897.5L1399.2 1897.6" fill="none" stroke="#868686" stroke-width="5.6" stroke-linejoin="round"/>
<rect x="310.30" y="1147.30" width="1088.90" height="753.80" fill="none" stroke="#000" stroke-width="11.0"/>
<path d="M286.30 1298.06H334.30M1375.20 1298.06H1423.20" stroke="#000" stroke-width="5.5"/>
<path d="M310.30 1123.30V1148.30M310.30 1900.10V1925.10M491.78 1123.30V1925.10M673.27 1123.30V1925.10M854.75 1123.30V1925.10M1036.23 1123.30V1925.10M1217.72 1123.30V1925.10M1399.20 1123.30V1148.30M1399.20 1900.10V1925.10M286.30 1901.10H311.30M1398.20 1901.10H1423.20M286.30 1712.65H1423.20M286.30 1524.20H1423.20M286.30 1335.75H1423.20M286.30 1147.30H311.30M1398.20 1147.30H1423.20" stroke="#868686" stroke-width="2.7" fill="none"/>
<path d="M747.8 1452.7H835.0" stroke="#555" stroke-width="5"/>
<path d="M862.5 1452.7C850.5 1450.2 835.0 1446.7 829.0 1443.7L832.0 1452.7L829.0 1461.7C835.0 1458.7 850.5 1455.2 862.5 1452.7Z" fill="#000"/>
<path d="M1102.0 1425.8H1014.1" stroke="#222" stroke-width="3"/>
<path d="M986.6 1425.8C998.6 1423.3 1014.1 1419.8 1020.1 1416.8L1017.1 1425.8L1020.1 1434.8C1014.1 1431.8 998.6 1428.3 986.6 1425.8Z" fill="#000"/>
<text fill="#000" stroke="#fff"><tspan x="493.06" y="1470.20" font-size="69.00" textLength="71.94" lengthAdjust="spacingAndGlyphs" stroke-width="0.76">90</tspan> <tspan x="586.44" y="1470.20" font-size="69.00" textLength="139.16" lengthAdjust="spacingAndGlyphs" stroke-width="0.76">days</tspan></text>
<text fill="#000" stroke="#fff"><tspan x="1125.61" y="1442.70" font-size="69.00" textLength="70.95" lengthAdjust="spacingAndGlyphs" stroke-width="0.76">28</tspan> <tspan x="1219.55" y="1442.70" font-size="69.00" textLength="138.95" lengthAdjust="spacingAndGlyphs" stroke-width="0.76">days</tspan></text>
<g fill="#000">
<path d="M358.5 1548.0L378.2 1582.0H338.8Z"/>
<path d="M336.6 1665.6L370.7 1645.9V1685.3Z"/>
<circle cx="358.0" cy="1759.3" r="17.8"/>
</g>
<circle cx="358.0" cy="1854.4" r="16.4" fill="#fff" stroke="#b9b9b9" stroke-width="2.5"/>
<text fill="#000" stroke="#fff"><tspan x="405.40" y="1585.60" font-size="69.00" textLength="68.88" lengthAdjust="spacingAndGlyphs" stroke-width="0.76">28</tspan> <tspan x="498.96" y="1585.60" font-size="69.00" textLength="138.12" lengthAdjust="spacingAndGlyphs" stroke-width="0.76">days</tspan> <tspan x="660.89" y="1585.60" font-size="69.00" textLength="20.49" lengthAdjust="spacingAndGlyphs" stroke-width="0.76">-</tspan> <tspan x="706.00" y="1585.60" font-size="69.00" textLength="83.45" lengthAdjust="spacingAndGlyphs" stroke-width="0.76">set</tspan> <tspan x="819.46" y="1585.60" font-size="69.00" textLength="31.63" lengthAdjust="spacingAndGlyphs" stroke-width="0.76">1</tspan></text>
<text fill="#000" stroke="#fff"><tspan x="405.40" y="1681.50" font-size="69.00" textLength="68.88" lengthAdjust="spacingAndGlyphs" stroke-width="0.76">28</tspan> <tspan x="498.96" y="1681.50" font-size="69.00" textLength="138.12" lengthAdjust="spacingAndGlyphs" stroke-width="0.76">days</tspan> <tspan x="660.89" y="1681.50" font-size="69.00" textLength="20.49" lengthAdjust="spacingAndGlyphs" stroke-width="0.76">-</tspan> <tspan x="706.00" y="1681.50" font-size="69.00" textLength="83.45" lengthAdjust="spacingAndGlyphs" stroke-width="0.76">set</tspan> <tspan x="814.34" y="1681.50" font-size="69.00" textLength="40.62" lengthAdjust="spacingAndGlyphs" stroke-width="0.76">2</tspan></text>
<text fill="#000" stroke="#fff"><tspan x="405.40" y="1776.00" font-size="69.00" textLength="68.88" lengthAdjust="spacingAndGlyphs" stroke-width="0.76">28</tspan> <tspan x="498.96" y="1776.00" font-size="69.00" textLength="138.12" lengthAdjust="spacingAndGlyphs" stroke-width="0.76">days</tspan> <tspan x="660.89" y="1776.00" font-size="69.00" textLength="20.49" lengthAdjust="spacingAndGlyphs" stroke-width="0.76">-</tspan> <tspan x="706.00" y="1776.00" font-size="69.00" textLength="83.45" lengthAdjust="spacingAndGlyphs" stroke-width="0.76">set</tspan> <tspan x="815.43" y="1776.00" font-size="69.00" textLength="37.58" lengthAdjust="spacingAndGlyphs" stroke-width="0.76">3</tspan></text>
<text fill="#000" stroke="#fff"><tspan x="406.23" y="1871.20" font-size="69.00" textLength="69.89" lengthAdjust="spacingAndGlyphs" stroke-width="0.76">90</tspan> <tspan x="498.96" y="1871.20" font-size="69.00" textLength="138.12" lengthAdjust="spacingAndGlyphs" stroke-width="0.76">days</tspan></text>
<text fill="#000" stroke="#fff"><tspan x="202.26" y="1170.60" font-size="69.00" textLength="73.70" lengthAdjust="spacingAndGlyphs" stroke-width="0.76">50</tspan></text>
<text fill="#000" stroke="#fff"><tspan x="147.77" y="1359.05" font-size="69.00" textLength="126.53" lengthAdjust="spacingAndGlyphs" stroke-width="0.76">37.5</tspan></text>
<text fill="#000" stroke="#fff"><tspan x="203.80" y="1547.50" font-size="69.00" textLength="71.04" lengthAdjust="spacingAndGlyphs" stroke-width="0.76">25</tspan></text>
<text fill="#000" stroke="#fff"><tspan x="148.16" y="1735.95" font-size="69.00" textLength="126.73" lengthAdjust="spacingAndGlyphs" stroke-width="0.76">12.5</tspan></text>
<text fill="#000" stroke="#fff"><tspan x="239.35" y="1924.40" font-size="69.00" textLength="35.29" lengthAdjust="spacingAndGlyphs" stroke-width="0.76">0</tspan></text>
<text fill="#000" stroke="#fff"><tspan x="260.15" y="1993.30" font-size="69.00" textLength="70.29" lengthAdjust="spacingAndGlyphs" stroke-width="0.76">10</tspan><tspan x="330.33" y="1969.90" font-size="49.00" textLength="26.24" lengthAdjust="spacingAndGlyphs" stroke-width="0.54">0</tspan></text>
<text fill="#000" stroke="#fff"><tspan x="441.63" y="1993.30" font-size="69.00" textLength="70.29" lengthAdjust="spacingAndGlyphs" stroke-width="0.76">10</tspan><tspan x="511.37" y="1969.90" font-size="49.00" textLength="28.09" lengthAdjust="spacingAndGlyphs" stroke-width="0.54">1</tspan></text>
<text fill="#000" stroke="#fff"><tspan x="623.12" y="1993.30" font-size="69.00" textLength="70.29" lengthAdjust="spacingAndGlyphs" stroke-width="0.76">10</tspan><tspan x="693.24" y="1969.90" font-size="49.00" textLength="28.12" lengthAdjust="spacingAndGlyphs" stroke-width="0.54">2</tspan></text>
<text fill="#000" stroke="#fff"><tspan x="804.60" y="1993.30" font-size="69.00" textLength="70.29" lengthAdjust="spacingAndGlyphs" stroke-width="0.76">10</tspan><tspan x="874.60" y="1969.90" font-size="49.00" textLength="27.88" lengthAdjust="spacingAndGlyphs" stroke-width="0.54">3</tspan></text>
<text fill="#000" stroke="#fff"><tspan x="986.08" y="1993.30" font-size="69.00" textLength="70.29" lengthAdjust="spacingAndGlyphs" stroke-width="0.76">10</tspan><tspan x="1056.68" y="1969.90" font-size="49.00" textLength="26.34" lengthAdjust="spacingAndGlyphs" stroke-width="0.54">4</tspan></text>
<text fill="#000" stroke="#fff"><tspan x="1167.57" y="1993.30" font-size="69.00" textLength="70.29" lengthAdjust="spacingAndGlyphs" stroke-width="0.76">10</tspan><tspan x="1237.00" y="1969.90" font-size="49.00" textLength="27.95" lengthAdjust="spacingAndGlyphs" stroke-width="0.54">5</tspan></text>
<text fill="#000" stroke="#fff"><tspan x="1349.05" y="1993.30" font-size="69.00" textLength="70.29" lengthAdjust="spacingAndGlyphs" stroke-width="0.76">10</tspan><tspan x="1419.41" y="1969.90" font-size="49.00" textLength="26.90" lengthAdjust="spacingAndGlyphs" stroke-width="0.54">6</tspan></text>
<text fill="#000" stroke="#fff"><tspan x="706.68" y="2108.50" font-size="91.00" font-style="italic" textLength="55.09" lengthAdjust="spacingAndGlyphs" stroke-width="1.00">ψ</tspan> <tspan x="797.91" y="2112.70" font-size="95.00" textLength="25.07" lengthAdjust="spacingAndGlyphs" stroke-width="1.04">(</tspan><tspan x="827.97" y="2110.50" font-size="83.00" textLength="137.00" lengthAdjust="spacingAndGlyphs" stroke-width="0.91">kPa</tspan><tspan x="969.70" y="2112.70" font-size="95.00" textLength="25.61" lengthAdjust="spacingAndGlyphs" stroke-width="1.04">)</tspan></text>
<text transform="translate(96,1622.70) rotate(-90)" fill="#000" stroke="#fff"><tspan x="-3.82" y="-0.80" font-size="84.50" font-style="italic" textLength="41.41" lengthAdjust="spacingAndGlyphs" stroke-width="0.93">θ</tspan> <tspan x="71.36" y="1.40" font-size="94.50" textLength="26.90" lengthAdjust="spacingAndGlyphs" stroke-width="1.04">(</tspan><tspan x="99.71" y="3.00" font-size="99.76" textLength="66.31" lengthAdjust="spacingAndGlyphs" stroke-width="0.95">%</tspan><tspan x="169.63" y="1.40" font-size="94.50" textLength="24.31" lengthAdjust="spacingAndGlyphs" stroke-width="1.04">)</tspan></text>
<text fill="#000" stroke="#fff"><tspan x="1123.32" y="1214.10" font-size="66.00" font-style="italic" textLength="32.23" lengthAdjust="spacingAndGlyphs" stroke-width="0.73">e</tspan> <tspan x="1171.80" y="1218.70" font-size="66.00" textLength="60.89" lengthAdjust="spacingAndGlyphs" stroke-width="0.73">=</tspan> <tspan x="1247.22" y="1214.30" font-size="69.00" textLength="129.86" lengthAdjust="spacingAndGlyphs" stroke-width="0.76">0.42</tspan></text>
<text fill="#000" stroke="#fff"><tspan x="981.13" y="1319.70" font-size="72.00" font-style="italic" textLength="35.06" lengthAdjust="spacingAndGlyphs" stroke-width="0.79">θ</tspan><tspan x="1014.74" y="1326.20" font-size="48.00" textLength="97.38" lengthAdjust="spacingAndGlyphs" stroke-width="0.53">sat.</tspan> <tspan x="1136.84" y="1331.50" font-size="95.00" textLength="53.07" lengthAdjust="spacingAndGlyphs" stroke-width="1.04">≈</tspan> <tspan x="1210.63" y="1319.70" font-size="69.00" textLength="68.48" lengthAdjust="spacingAndGlyphs" stroke-width="0.76">41</tspan> <tspan x="1294.45" y="1321.50" font-size="81.42" textLength="55.97" lengthAdjust="spacingAndGlyphs" stroke-width="0.76">%</tspan></text>
<text fill="#000" stroke="#fff"><tspan x="1271.00" y="1803.70" font-size="86.00" textLength="44.32" lengthAdjust="spacingAndGlyphs" stroke-width="0.95">b</tspan><tspan x="1317.83" y="1805.70" font-size="94.50" textLength="24.31" lengthAdjust="spacingAndGlyphs" stroke-width="1.04">)</tspan></text>
<circle cx="394.6" cy="2450.8" r="16.4" fill="#fff" stroke="#b9b9b9" stroke-width="2.5"/>
<circle cx="477.0" cy="2448.6" r="16.4" fill="#fff" stroke="#b9b9b9" stroke-width="2.5"/>
<circle cx="477.0" cy="2495.0" r="16.4" fill="#fff" stroke="#b9b9b9" stroke-width="2.5"/>
<circle cx="497.5" cy="2495.0" r="16.4" fill="#fff" stroke="#b9b9b9" stroke-width="2.5"/>
<circle cx="543.9" cy="2495.0" r="16.4" fill="#fff" stroke="#b9b9b9" stroke-width="2.5"/>
<circle cx="596.0" cy="2548.3" r="16.4" fill="#fff" stroke="#b9b9b9" stroke-width="2.5"/>
<circle cx="592.4" cy="2548.4" r="16.4" fill="#fff" stroke="#b9b9b9" stroke-width="2.5"/>
<circle cx="792.2" cy="2641.3" r="16.4" fill="#fff" stroke="#b9b9b9" stroke-width="2.5"/>
<circle cx="874.6" cy="2640.8" r="16.4" fill="#fff" stroke="#b9b9b9" stroke-width="2.5"/>
<circle cx="951.5" cy="2777.8" r="16.4" fill="#fff" stroke="#b9b9b9" stroke-width="2.5"/>
<circle cx="991.0" cy="2777.2" r="16.4" fill="#fff" stroke="#b9b9b9" stroke-width="2.5"/>
<circle cx="1085.1" cy="2776.6" r="16.4" fill="#fff" stroke="#b9b9b9" stroke-width="2.5"/>
<circle cx="1132.0" cy="2884.8" r="16.4" fill="#fff" stroke="#b9b9b9" stroke-width="2.5"/>
<circle cx="1198.4" cy="2880.8" r="16.4" fill="#fff" stroke="#b9b9b9" stroke-width="2.5"/>
<circle cx="1206.0" cy="2961.0" r="16.4" fill="#fff" stroke="#b9b9b9" stroke-width="2.5"/>
<circle cx="1256.0" cy="2964.0" r="16.4" fill="#fff" stroke="#b9b9b9" stroke-width="2.5"/>
<g fill="#000">
<circle cx="340.8" cy="2438.3" r="18"/>
<circle cx="448.5" cy="2436.6" r="18"/>
<circle cx="458.1" cy="2472.6" r="18"/>
<circle cx="480.4" cy="2472.0" r="18"/>
<circle cx="512.3" cy="2470.9" r="18"/>
<circle cx="609.7" cy="2570.4" r="18"/>
<circle cx="618.7" cy="2570.4" r="18"/>
<circle cx="820.5" cy="2666.0" r="18"/>
<circle cx="854.0" cy="2666.0" r="18"/>
<circle cx="951.5" cy="2666.0" r="18"/>
<circle cx="1001.5" cy="2804.6" r="18"/>
<circle cx="1010.5" cy="2804.6" r="18"/>
<circle cx="1078.0" cy="2804.8" r="18"/>
<circle cx="1144.8" cy="2860.8" r="18"/>
<circle cx="1190.2" cy="2860.8" r="18"/>
<circle cx="1199.3" cy="2932.7" r="18"/>
<circle cx="1219.3" cy="2932.7" r="18"/>
<circle cx="1221.0" cy="2967.0" r="18"/>
<circle cx="1235.5" cy="2967.0" r="18"/>
</g>
<path d="M310.30 2216.00V2241.00M310.30 2992.80V3017.80M491.78 2216.00V3017.80M673.27 2216.00V3017.80M854.75 2216.00V3017.80M1036.23 2216.00V3017.80M1217.72 2216.00V3017.80M1399.20 2216.00V2241.00M1399.20 2992.80V3017.80M286.30 2993.80H311.30M1398.20 2993.80H1423.20M286.30 2805.35H1423.20M286.30 2616.90H1423.20M286.30 2428.45H1423.20M286.30 2240.00H311.30M1398.20 2240.00H1423.20" stroke="#868686" stroke-width="2.7" fill="none"/>
<rect x="310.30" y="2240.00" width="1088.90" height="753.80" fill="none" stroke="#000" stroke-width="11.0"/>
<path d="M286.30 2390.76H334.30M1375.20 2390.76H1423.20" stroke="#000" stroke-width="5.5"/>
<path d="M310.3 2434.3L312.5 2434.8L314.7 2435.3L316.8 2435.7L319.0 2436.2L321.2 2436.7L323.4 2437.1L325.6 2437.6L327.8 2438.0L329.9 2438.5L332.1 2438.9L334.3 2439.4L336.5 2439.8L338.7 2440.3L340.9 2440.7L343.0 2441.2L345.2 2441.6L347.4 2442.1L349.6 2442.5L351.8 2442.9L353.9 2443.4L356.1 2443.8L358.3 2444.3L360.5 2444.7L362.7 2445.1L364.9 2445.6L367.0 2446.0L369.2 2446.4L371.4 2446.9L373.6 2447.3L375.8 2447.8L377.9 2448.2L380.1 2448.6L382.3 2449.1L384.5 2449.5L386.7 2450.0L388.9 2450.4L391.0 2450.9L393.2 2451.3L395.4 2451.8L397.6 2452.2L399.8 2452.7L402.0 2453.1L404.1 2453.6L406.3 2454.1L408.5 2454.5L410.7 2455.0L412.9 2455.5L415.0 2455.9L417.2 2456.4L419.4 2456.9L421.6 2457.4L423.8 2457.9L426.0 2458.4L428.1 2458.9L430.3 2459.4L432.5 2459.9L434.7 2460.4L436.9 2460.9L439.0 2461.4L441.2 2462.0L443.4 2462.5L445.6 2463.0L447.8 2463.6L450.0 2464.1L452.1 2464.7L454.3 2465.3L456.5 2465.8L458.7 2466.4L460.9 2467.0L463.1 2467.6L465.2 2468.2L467.4 2468.8L469.6 2469.4L471.8 2470.0L474.0 2470.6L476.1 2471.2L478.3 2471.9L480.5 2472.5L482.7 2473.2L484.9 2473.8L487.1 2474.5L489.2 2475.2L491.4 2475.8L493.6 2476.5L495.8 2477.2L498.0 2477.9L500.1 2478.7L502.3 2479.4L504.5 2480.1L506.7 2480.9L508.9 2481.6L511.1 2482.4L513.2 2483.1L515.4 2483.9L517.6 2484.7L519.8 2485.5L522.0 2486.3L524.2 2487.1L526.3 2487.9L528.5 2488.8L530.7 2489.6L532.9 2490.4L535.1 2491.3L537.2 2492.2L539.4 2493.0L541.6 2493.9L543.8 2494.8L546.0 2495.7L548.2 2496.6L550.3 2497.5L552.5 2498.4L554.7 2499.3L556.9 2500.3L559.1 2501.2L561.2 2502.2L563.4 2503.1L565.6 2504.1L567.8 2505.1L570.0 2506.0L572.2 2507.0L574.3 2508.0L576.5 2509.0L578.7 2510.1L580.9 2511.1L583.1 2512.1L585.3 2513.1L587.4 2514.2L589.6 2515.2L591.8 2516.3L594.0 2517.4L596.2 2518.5L598.3 2519.5L600.5 2520.6L602.7 2521.7L604.9 2522.9L607.1 2524.0L609.3 2525.1L611.4 2526.2L613.6 2527.4L615.8 2528.5L618.0 2529.7L620.2 2530.8L622.3 2532.0L624.5 2533.2L626.7 2534.4L628.9 2535.6L631.1 2536.8L633.3 2538.0L635.4 2539.2L637.6 2540.5L639.8 2541.7L642.0 2542.9L644.2 2544.2L646.4 2545.4L648.5 2546.7L650.7 2548.0L652.9 2549.3L655.1 2550.5L657.3 2551.8L659.4 2553.1L661.6 2554.4L663.8 2555.8L666.0 2557.1L668.2 2558.4L670.4 2559.8L672.5 2561.1L674.7 2562.4L676.9 2563.8L679.1 2565.2L681.3 2566.5L683.5 2567.9L685.6 2569.3L687.8 2570.7L690.0 2572.1L692.2 2573.5L694.4 2574.9L696.5 2576.3L698.7 2577.7L700.9 2579.1L703.1 2580.6L705.3 2582.0L707.5 2583.5L709.6 2584.9L711.8 2586.4L714.0 2587.8L716.2 2589.3L718.4 2590.8L720.5 2592.2L722.7 2593.7L724.9 2595.2L727.1 2596.7L729.3 2598.2L731.5 2599.7L733.6 2601.2L735.8 2602.7L738.0 2604.3L740.2 2605.8L742.4 2607.3L744.6 2608.9L746.7 2610.4L748.9 2612.0L751.1 2613.5L753.3 2615.1L755.5 2616.6L757.6 2618.2L759.8 2619.8L762.0 2621.3L764.2 2622.9L766.4 2624.5L768.6 2626.1L770.7 2627.7L772.9 2629.3L775.1 2630.9L777.3 2632.5L779.5 2634.1L781.6 2635.7L783.8 2637.3L786.0 2638.9L788.2 2640.6L790.4 2642.2L792.6 2643.8L794.7 2645.5L796.9 2647.1L799.1 2648.7L801.3 2650.4L803.5 2652.0L805.7 2653.7L807.8 2655.4L810.0 2657.0L812.2 2658.7L814.4 2660.4L816.6 2662.0L818.7 2663.7L820.9 2665.4L823.1 2667.1L825.3 2668.7L827.5 2670.4L829.7 2672.1L831.8 2673.8L834.0 2675.5L836.2 2677.2L838.4 2678.9L840.6 2680.6L842.7 2682.3L844.9 2684.0L847.1 2685.7L849.3 2687.4L851.5 2689.1L853.7 2690.8L855.8 2692.5L858.0 2694.2L860.2 2696.0L862.4 2697.7L864.6 2699.4L866.8 2701.1L868.9 2702.8L871.1 2704.5L873.3 2706.2L875.5 2708.0L877.7 2709.7L879.8 2711.4L882.0 2713.1L884.2 2714.8L886.4 2716.5L888.6 2718.3L890.8 2720.0L892.9 2721.7L895.1 2723.4L897.3 2725.1L899.5 2726.8L901.7 2728.5L903.8 2730.2L906.0 2731.9L908.2 2733.7L910.4 2735.4L912.6 2737.1L914.8 2738.8L916.9 2740.5L919.1 2742.2L921.3 2743.9L923.5 2745.5L925.7 2747.2L927.9 2748.9L930.0 2750.6L932.2 2752.3L934.4 2754.0L936.6 2755.7L938.8 2757.3L940.9 2759.0L943.1 2760.7L945.3 2762.3L947.5 2764.0L949.7 2765.6L951.9 2767.3L954.0 2769.0L956.2 2770.6L958.4 2772.2L960.6 2773.9L962.8 2775.5L964.9 2777.1L967.1 2778.8L969.3 2780.4L971.5 2782.0L973.7 2783.6L975.9 2785.2L978.0 2786.8L980.2 2788.4L982.4 2790.0L984.6 2791.6L986.8 2793.2L989.0 2794.8L991.1 2796.3L993.3 2797.9L995.5 2799.4L997.7 2801.0L999.9 2802.5L1002.0 2804.1L1004.2 2805.6L1006.4 2807.1L1008.6 2808.7L1010.8 2810.2L1013.0 2811.7L1015.1 2813.2L1017.3 2814.7L1019.5 2816.2L1021.7 2817.6L1023.9 2819.1L1026.0 2820.6L1028.2 2822.0L1030.4 2823.5L1032.6 2824.9L1034.8 2826.3L1037.0 2827.7L1039.1 2829.1L1041.3 2830.5L1043.5 2831.9L1045.7 2833.3L1047.9 2834.7L1050.1 2836.0L1052.2 2837.4L1054.4 2838.7L1056.6 2840.0L1058.8 2841.4L1061.0 2842.7L1063.1 2844.0L1065.3 2845.3L1067.5 2846.6L1069.7 2847.8L1071.9 2849.1L1074.1 2850.4L1076.2 2851.6L1078.4 2852.9L1080.6 2854.1L1082.8 2855.3L1085.0 2856.5L1087.2 2857.7L1089.3 2858.9L1091.5 2860.1L1093.7 2861.3L1095.9 2862.5L1098.1 2863.6L1100.2 2864.8L1102.4 2865.9L1104.6 2867.1L1106.8 2868.2L1109.0 2869.3L1111.2 2870.4L1113.3 2871.5L1115.5 2872.6L1117.7 2873.7L1119.9 2874.8L1122.1 2875.9L1124.2 2876.9L1126.4 2878.0L1128.6 2879.0L1130.8 2880.1L1133.0 2881.1L1135.2 2882.1L1137.3 2883.1L1139.5 2884.1L1141.7 2885.1L1143.9 2886.1L1146.1 2887.1L1148.3 2888.1L1150.4 2889.1L1152.6 2890.0L1154.8 2891.0L1157.0 2891.9L1159.2 2892.9L1161.3 2893.8L1163.5 2894.7L1165.7 2895.6L1167.9 2896.5L1170.1 2897.4L1172.3 2898.3L1174.4 2899.2L1176.6 2900.1L1178.8 2901.0L1181.0 2901.8L1183.2 2902.7L1185.3 2903.6L1187.5 2904.4L1189.7 2905.2L1191.9 2906.1L1194.1 2906.9L1196.3 2907.7L1198.4 2908.5L1200.6 2909.3L1202.8 2910.1L1205.0 2910.9L1207.2 2911.7L1209.4 2912.4L1211.5 2913.2L1213.7 2914.0L1215.9 2914.7L1218.1 2915.5L1220.3 2916.2L1222.4 2917.0L1224.6 2917.7L1226.8 2918.4L1229.0 2919.1L1231.2 2919.8L1233.4 2920.5L1235.5 2921.2L1237.7 2921.9L1239.9 2922.6L1242.1 2923.3L1244.3 2923.9L1246.4 2924.6L1248.6 2925.3L1250.8 2925.9L1253.0 2926.6L1255.2 2927.2L1257.4 2927.8L1259.5 2928.5L1261.7 2929.1L1263.9 2929.7L1266.1 2930.3L1268.3 2930.9L1270.5 2931.5L1272.6 2932.1L1274.8 2932.7L1277.0 2933.3L1279.2 2933.9L1281.4 2934.4L1283.5 2935.0L1285.7 2935.6L1287.9 2936.1L1290.1 2936.7L1292.3 2937.2L1294.5 2937.7L1296.6 2938.3L1298.8 2938.8L1301.0 2939.3L1303.2 2939.8L1305.4 2940.4L1307.5 2940.9L1309.7 2941.4L1311.9 2941.9L1314.1 2942.3L1316.3 2942.8L1318.5 2943.3L1320.6 2943.8L1322.8 2944.3L1325.0 2944.7L1327.2 2945.2L1329.4 2945.6L1331.6 2946.1L1333.7 2946.5L1335.9 2947.0L1338.1 2947.4L1340.3 2947.9L1342.5 2948.3L1344.6 2948.7L1346.8 2949.1L1349.0 2949.5L1351.2 2949.9L1353.4 2950.4L1355.6 2950.8L1357.7 2951.1L1359.9 2951.5L1362.1 2951.9L1364.3 2952.3L1366.5 2952.7L1368.6 2953.1L1370.8 2953.4L1373.0 2953.8L1375.2 2954.2L1377.4 2954.5L1379.6 2954.9L1381.7 2955.2L1383.9 2955.6L1386.1 2955.9L1388.3 2956.3L1390.5 2956.6L1392.7 2956.9L1394.8 2957.3L1397.0 2957.6L1399.2 2957.9" fill="none" stroke="#868686" stroke-width="5.6" stroke-linejoin="round"/>
<path d="M310.3 2436.7L312.5 2437.2L314.7 2437.7L316.8 2438.1L319.0 2438.6L321.2 2439.1L323.4 2439.5L325.6 2440.0L327.8 2440.5L329.9 2440.9L332.1 2441.4L334.3 2441.8L336.5 2442.3L338.7 2442.7L340.9 2443.2L343.0 2443.6L345.2 2444.1L347.4 2444.5L349.6 2444.9L351.8 2445.4L353.9 2445.8L356.1 2446.3L358.3 2446.7L360.5 2447.1L362.7 2447.6L364.9 2448.0L367.0 2448.5L369.2 2448.9L371.4 2449.3L373.6 2449.8L375.8 2450.2L377.9 2450.7L380.1 2451.1L382.3 2451.6L384.5 2452.0L386.7 2452.4L388.9 2452.9L391.0 2453.3L393.2 2453.8L395.4 2454.3L397.6 2454.7L399.8 2455.2L402.0 2455.6L404.1 2456.1L406.3 2456.6L408.5 2457.0L410.7 2457.5L412.9 2458.0L415.0 2458.5L417.2 2458.9L419.4 2459.4L421.6 2459.9L423.8 2460.4L426.0 2460.9L428.1 2461.4L430.3 2461.9L432.5 2462.4L434.7 2462.9L436.9 2463.5L439.0 2464.0L441.2 2464.5L443.4 2465.1L445.6 2465.6L447.8 2466.1L450.0 2466.7L452.1 2467.2L454.3 2467.8L456.5 2468.4L458.7 2469.0L460.9 2469.5L463.1 2470.1L465.2 2470.7L467.4 2471.3L469.6 2471.9L471.8 2472.5L474.0 2473.2L476.1 2473.8L478.3 2474.4L480.5 2475.1L482.7 2475.7L484.9 2476.4L487.1 2477.1L489.2 2477.7L491.4 2478.4L493.6 2479.1L495.8 2479.8L498.0 2480.5L500.1 2481.3L502.3 2482.0L504.5 2482.7L506.7 2483.5L508.9 2484.2L511.1 2485.0L513.2 2485.8L515.4 2486.6L517.6 2487.4L519.8 2488.2L522.0 2489.0L524.2 2489.8L526.3 2490.6L528.5 2491.4L530.7 2492.3L532.9 2493.1L535.1 2494.0L537.2 2494.8L539.4 2495.7L541.6 2496.6L543.8 2497.5L546.0 2498.4L548.2 2499.3L550.3 2500.2L552.5 2501.1L554.7 2502.1L556.9 2503.0L559.1 2504.0L561.2 2504.9L563.4 2505.9L565.6 2506.8L567.8 2507.8L570.0 2508.8L572.2 2509.8L574.3 2510.8L576.5 2511.8L578.7 2512.8L580.9 2513.9L583.1 2514.9L585.3 2516.0L587.4 2517.0L589.6 2518.1L591.8 2519.1L594.0 2520.2L596.2 2521.3L598.3 2522.4L600.5 2523.5L602.7 2524.6L604.9 2525.7L607.1 2526.8L609.3 2528.0L611.4 2529.1L613.6 2530.3L615.8 2531.4L618.0 2532.6L620.2 2533.7L622.3 2534.9L624.5 2536.1L626.7 2537.3L628.9 2538.5L631.1 2539.7L633.3 2540.9L635.4 2542.2L637.6 2543.4L639.8 2544.6L642.0 2545.9L644.2 2547.1L646.4 2548.4L648.5 2549.7L650.7 2551.0L652.9 2552.2L655.1 2553.5L657.3 2554.8L659.4 2556.1L661.6 2557.5L663.8 2558.8L666.0 2560.1L668.2 2561.4L670.4 2562.8L672.5 2564.1L674.7 2565.5L676.9 2566.9L679.1 2568.2L681.3 2569.6L683.5 2571.0L685.6 2572.4L687.8 2573.8L690.0 2575.2L692.2 2576.6L694.4 2578.0L696.5 2579.5L698.7 2580.9L700.9 2582.3L703.1 2583.8L705.3 2585.2L707.5 2586.7L709.6 2588.1L711.8 2589.6L714.0 2591.1L716.2 2592.5L718.4 2594.0L720.5 2595.5L722.7 2597.0L724.9 2598.5L727.1 2600.0L729.3 2601.5L731.5 2603.0L733.6 2604.5L735.8 2606.1L738.0 2607.6L740.2 2609.1L742.4 2610.7L744.6 2612.2L746.7 2613.8L748.9 2615.3L751.1 2616.9L753.3 2618.4L755.5 2620.0L757.6 2621.6L759.8 2623.2L762.0 2624.8L764.2 2626.3L766.4 2627.9L768.6 2629.5L770.7 2631.1L772.9 2632.7L775.1 2634.4L777.3 2636.0L779.5 2637.6L781.6 2639.2L783.8 2640.8L786.0 2642.5L788.2 2644.1L790.4 2645.7L792.6 2647.4L794.7 2649.0L796.9 2650.7L799.1 2652.3L801.3 2654.0L803.5 2655.6L805.7 2657.3L807.8 2659.0L810.0 2660.6L812.2 2662.3L814.4 2664.0L816.6 2665.7L818.7 2667.4L820.9 2669.0L823.1 2670.7L825.3 2672.4L827.5 2674.1L829.7 2675.8L831.8 2677.5L834.0 2679.2L836.2 2680.9L838.4 2682.6L840.6 2684.3L842.7 2686.1L844.9 2687.8L847.1 2689.5L849.3 2691.2L851.5 2692.9L853.7 2694.6L855.8 2696.3L858.0 2698.1L860.2 2699.8L862.4 2701.5L864.6 2703.2L866.8 2705.0L868.9 2706.7L871.1 2708.4L873.3 2710.1L875.5 2711.9L877.7 2713.6L879.8 2715.3L882.0 2717.0L884.2 2718.8L886.4 2720.5L888.6 2722.2L890.8 2723.9L892.9 2725.7L895.1 2727.4L897.3 2729.1L899.5 2730.8L901.7 2732.6L903.8 2734.3L906.0 2736.1L908.2 2737.8L910.4 2739.6L912.6 2741.3L914.8 2743.1L916.9 2744.8L919.1 2746.5L921.3 2748.3L923.5 2750.0L925.7 2751.8L927.9 2753.5L930.0 2755.2L932.2 2756.9L934.4 2758.7L936.6 2760.4L938.8 2762.1L940.9 2763.8L943.1 2765.5L945.3 2767.2L947.5 2768.9L949.7 2770.6L951.9 2772.3L954.0 2774.0L956.2 2775.7L958.4 2777.4L960.6 2779.1L962.8 2780.8L964.9 2782.4L967.1 2784.1L969.3 2785.8L971.5 2787.4L973.7 2789.1L975.9 2790.7L978.0 2792.4L980.2 2794.0L982.4 2795.7L984.6 2797.3L986.8 2798.9L989.0 2800.5L991.1 2802.1L993.3 2803.8L995.5 2805.4L997.7 2807.0L999.9 2808.5L1002.0 2810.2L1004.2 2811.9L1006.4 2813.5L1008.6 2815.2L1010.8 2816.9L1013.0 2818.5L1015.1 2820.1L1017.3 2821.8L1019.5 2823.4L1021.7 2825.0L1023.9 2826.6L1026.0 2828.2L1028.2 2829.8L1030.4 2831.4L1032.6 2832.9L1034.8 2834.5L1037.0 2836.0L1039.1 2837.6L1041.3 2839.0L1043.5 2840.4L1045.7 2841.8L1047.9 2843.2L1050.1 2844.5L1052.2 2845.9L1054.4 2847.2L1056.6 2848.5L1058.8 2849.9L1061.0 2851.2L1063.1 2852.5L1065.3 2853.8L1067.5 2855.1L1069.7 2856.3L1071.9 2857.6L1074.1 2858.9L1076.2 2860.1L1078.4 2861.4L1080.6 2862.6L1082.8 2863.8L1085.0 2865.0L1087.2 2866.2L1089.3 2867.4L1091.5 2868.6L1093.7 2869.8L1095.9 2871.0L1098.1 2872.1L1100.2 2873.3L1102.4 2874.4L1104.6 2875.5L1106.8 2876.7L1109.0 2877.8L1111.2 2878.9L1113.3 2880.0L1115.5 2881.0L1117.7 2882.1L1119.9 2883.2L1122.1 2884.3L1124.2 2885.3L1126.4 2886.4L1128.6 2887.4L1130.8 2888.4L1133.0 2889.4L1135.2 2890.4L1137.3 2891.5L1139.5 2892.5L1141.7 2893.4L1143.9 2894.4L1146.1 2895.4L1148.3 2896.4L1150.4 2897.3L1152.6 2898.3L1154.8 2899.2L1157.0 2900.1L1159.2 2901.1L1161.3 2902.0L1163.5 2902.9L1165.7 2903.8L1167.9 2904.7L1170.1 2905.6L1172.3 2906.5L1174.4 2907.4L1176.6 2908.2L1178.8 2909.1L1181.0 2909.9L1183.2 2910.8L1185.3 2911.6L1187.5 2912.5L1189.7 2913.3L1191.9 2914.1L1194.1 2914.9L1196.3 2915.7L1198.4 2916.5L1200.6 2917.3L1202.8 2918.1L1205.0 2918.9L1207.2 2919.6L1209.4 2920.4L1211.5 2921.2L1213.7 2921.9L1215.9 2922.6L1218.1 2923.4L1220.3 2924.1L1222.4 2924.8L1224.6 2925.6L1226.8 2926.3L1229.0 2927.0L1231.2 2927.7L1233.4 2928.4L1235.5 2929.0L1237.7 2929.7L1239.9 2930.4L1242.1 2931.1L1244.3 2931.7L1246.4 2932.4L1248.6 2933.0L1250.8 2933.7L1253.0 2934.3L1255.2 2934.9L1257.4 2935.5L1259.5 2936.2L1261.7 2936.8L1263.9 2937.4L1266.1 2938.0L1268.3 2938.6L1270.5 2939.2L1272.6 2939.7L1274.8 2940.3L1277.0 2940.9L1279.2 2941.5L1281.4 2942.0L1283.5 2942.6L1285.7 2943.1L1287.9 2943.7L1290.1 2944.2L1292.3 2944.7L1294.5 2945.3L1296.6 2945.8L1298.8 2946.3L1301.0 2946.8L1303.2 2947.3L1305.4 2947.8L1307.5 2948.3L1309.7 2948.8L1311.9 2949.3L1314.1 2949.8L1316.3 2950.2L1318.5 2950.7L1320.6 2951.2L1322.8 2951.6L1325.0 2952.1L1327.2 2952.5L1329.4 2953.0L1331.6 2953.4L1333.7 2953.9L1335.9 2954.3L1338.1 2954.7L1340.3 2955.1L1342.5 2955.6L1344.6 2956.0L1346.8 2956.4L1349.0 2956.8L1351.2 2957.2L1353.4 2957.6L1355.6 2958.0L1357.7 2958.4L1359.9 2958.7L1362.1 2959.1L1364.3 2959.5L1366.5 2959.9L1368.6 2960.2L1370.8 2960.6L1373.0 2960.9L1375.2 2961.3L1377.4 2961.6L1379.6 2962.0L1381.7 2962.3L1383.9 2962.7L1386.1 2963.0L1388.3 2963.3L1390.5 2963.6L1392.7 2964.0L1394.8 2964.3L1397.0 2964.6L1399.2 2964.9" fill="none" stroke="#000" stroke-width="2.1" stroke-dasharray="10.8 13.6" stroke-linejoin="round"/>
<g fill="#000">
<circle cx="358.3" cy="2851.9" r="17.8"/>
</g>
<circle cx="358.3" cy="2946.2" r="16.4" fill="#fff" stroke="#b9b9b9" stroke-width="2.5"/>
<text fill="#000" stroke="#fff"><tspan x="404.80" y="2869.70" font-size="69.00" textLength="71.06" lengthAdjust="spacingAndGlyphs" stroke-width="0.76">28</tspan> <tspan x="499.78" y="2869.70" font-size="69.00" textLength="137.39" lengthAdjust="spacingAndGlyphs" stroke-width="0.76">days</tspan></text>
<text fill="#000" stroke="#fff"><tspan x="405.71" y="2963.60" font-size="69.00" textLength="70.43" lengthAdjust="spacingAndGlyphs" stroke-width="0.76">90</tspan> <tspan x="499.78" y="2963.60" font-size="69.00" textLength="137.39" lengthAdjust="spacingAndGlyphs" stroke-width="0.76">days</tspan></text>
<text fill="#000" stroke="#fff"><tspan x="202.26" y="2263.30" font-size="69.00" textLength="73.70" lengthAdjust="spacingAndGlyphs" stroke-width="0.76">50</tspan></text>
<text fill="#000" stroke="#fff"><tspan x="147.77" y="2451.75" font-size="69.00" textLength="126.53" lengthAdjust="spacingAndGlyphs" stroke-width="0.76">37.5</tspan></text>
<text fill="#000" stroke="#fff"><tspan x="203.80" y="2640.20" font-size="69.00" textLength="71.04" lengthAdjust="spacingAndGlyphs" stroke-width="0.76">25</tspan></text>
<text fill="#000" stroke="#fff"><tspan x="148.16" y="2828.65" font-size="69.00" textLength="126.73" lengthAdjust="spacingAndGlyphs" stroke-width="0.76">12.5</tspan></text>
<text fill="#000" stroke="#fff"><tspan x="239.35" y="3017.10" font-size="69.00" textLength="35.29" lengthAdjust="spacingAndGlyphs" stroke-width="0.76">0</tspan></text>
<text fill="#000" stroke="#fff"><tspan x="260.15" y="3086.00" font-size="69.00" textLength="70.29" lengthAdjust="spacingAndGlyphs" stroke-width="0.76">10</tspan><tspan x="330.33" y="3062.60" font-size="49.00" textLength="26.24" lengthAdjust="spacingAndGlyphs" stroke-width="0.54">0</tspan></text>
<text fill="#000" stroke="#fff"><tspan x="441.63" y="3086.00" font-size="69.00" textLength="70.29" lengthAdjust="spacingAndGlyphs" stroke-width="0.76">10</tspan><tspan x="511.37" y="3062.60" font-size="49.00" textLength="28.09" lengthAdjust="spacingAndGlyphs" stroke-width="0.54">1</tspan></text>
<text fill="#000" stroke="#fff"><tspan x="623.12" y="3086.00" font-size="69.00" textLength="70.29" lengthAdjust="spacingAndGlyphs" stroke-width="0.76">10</tspan><tspan x="693.24" y="3062.60" font-size="49.00" textLength="28.12" lengthAdjust="spacingAndGlyphs" stroke-width="0.54">2</tspan></text>
<text fill="#000" stroke="#fff"><tspan x="804.60" y="3086.00" font-size="69.00" textLength="70.29" lengthAdjust="spacingAndGlyphs" stroke-width="0.76">10</tspan><tspan x="874.60" y="3062.60" font-size="49.00" textLength="27.88" lengthAdjust="spacingAndGlyphs" stroke-width="0.54">3</tspan></text>
<text fill="#000" stroke="#fff"><tspan x="986.08" y="3086.00" font-size="69.00" textLength="70.29" lengthAdjust="spacingAndGlyphs" stroke-width="0.76">10</tspan><tspan x="1056.68" y="3062.60" font-size="49.00" textLength="26.34" lengthAdjust="spacingAndGlyphs" stroke-width="0.54">4</tspan></text>
<text fill="#000" stroke="#fff"><tspan x="1167.57" y="3086.00" font-size="69.00" textLength="70.29" lengthAdjust="spacingAndGlyphs" stroke-width="0.76">10</tspan><tspan x="1237.00" y="3062.60" font-size="49.00" textLength="27.95" lengthAdjust="spacingAndGlyphs" stroke-width="0.54">5</tspan></text>
<text fill="#000" stroke="#fff"><tspan x="1349.05" y="3086.00" font-size="69.00" textLength="70.29" lengthAdjust="spacingAndGlyphs" stroke-width="0.76">10</tspan><tspan x="1419.41" y="3062.60" font-size="49.00" textLength="26.90" lengthAdjust="spacingAndGlyphs" stroke-width="0.54">6</tspan></text>
<text fill="#000" stroke="#fff"><tspan x="706.68" y="3201.20" font-size="91.00" font-style="italic" textLength="55.09" lengthAdjust="spacingAndGlyphs" stroke-width="1.00">ψ</tspan> <tspan x="797.91" y="3205.40" font-size="95.00" textLength="25.07" lengthAdjust="spacingAndGlyphs" stroke-width="1.04">(</tspan><tspan x="827.97" y="3203.20" font-size="83.00" textLength="137.00" lengthAdjust="spacingAndGlyphs" stroke-width="0.91">kPa</tspan><tspan x="969.70" y="3205.40" font-size="95.00" textLength="25.61" lengthAdjust="spacingAndGlyphs" stroke-width="1.04">)</tspan></text>
<text transform="translate(96,2715.40) rotate(-90)" fill="#000" stroke="#fff"><tspan x="-3.82" y="-0.80" font-size="84.50" font-style="italic" textLength="41.41" lengthAdjust="spacingAndGlyphs" stroke-width="0.93">θ</tspan> <tspan x="71.36" y="1.40" font-size="94.50" textLength="26.90" lengthAdjust="spacingAndGlyphs" stroke-width="1.04">(</tspan><tspan x="99.71" y="3.00" font-size="99.76" textLength="66.31" lengthAdjust="spacingAndGlyphs" stroke-width="0.95">%</tspan><tspan x="169.63" y="1.40" font-size="94.50" textLength="24.31" lengthAdjust="spacingAndGlyphs" stroke-width="1.04">)</tspan></text>
<text fill="#000" stroke="#fff"><tspan x="1123.32" y="2306.80" font-size="66.00" font-style="italic" textLength="32.23" lengthAdjust="spacingAndGlyphs" stroke-width="0.73">e</tspan> <tspan x="1171.80" y="2311.40" font-size="66.00" textLength="60.89" lengthAdjust="spacingAndGlyphs" stroke-width="0.73">=</tspan> <tspan x="1247.22" y="2307.00" font-size="69.00" textLength="129.86" lengthAdjust="spacingAndGlyphs" stroke-width="0.76">0.42</tspan></text>
<text fill="#000" stroke="#fff"><tspan x="981.13" y="2412.40" font-size="72.00" font-style="italic" textLength="35.06" lengthAdjust="spacingAndGlyphs" stroke-width="0.79">θ</tspan><tspan x="1014.74" y="2418.90" font-size="48.00" textLength="97.38" lengthAdjust="spacingAndGlyphs" stroke-width="0.53">sat.</tspan> <tspan x="1136.84" y="2424.20" font-size="95.00" textLength="53.07" lengthAdjust="spacingAndGlyphs" stroke-width="1.04">≈</tspan> <tspan x="1210.63" y="2412.40" font-size="69.00" textLength="68.48" lengthAdjust="spacingAndGlyphs" stroke-width="0.76">41</tspan> <tspan x="1294.45" y="2414.20" font-size="81.42" textLength="55.97" lengthAdjust="spacingAndGlyphs" stroke-width="0.76">%</tspan></text>
<text fill="#000" stroke="#fff"><tspan x="1272.66" y="2896.40" font-size="79.00" textLength="39.53" lengthAdjust="spacingAndGlyphs" stroke-width="0.87">c</tspan><tspan x="1311.98" y="2898.40" font-size="94.50" textLength="24.83" lengthAdjust="spacingAndGlyphs" stroke-width="1.04">)</tspan></text>
</svg>
</body></html>
